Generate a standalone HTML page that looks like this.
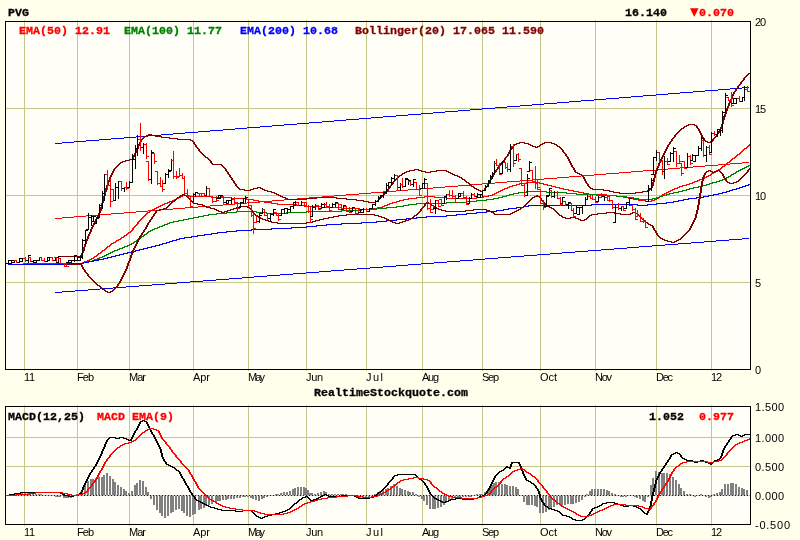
<!DOCTYPE html><html><head><meta charset="utf-8"><title>PVG chart</title>
<style>html,body{margin:0;padding:0;background:#ffffec;}svg{display:block}
.b{font-family:"Liberation Mono",monospace;font-weight:bold;font-size:11.6px;stroke-width:0.3px;}
.s{font-family:"Liberation Sans",sans-serif;font-size:11px;fill:#000;}
</style></head><body>
<svg width="800" height="540" viewBox="0 0 800 540">
<rect x="0" y="0" width="800" height="540" fill="#ffffec"/>
<g shape-rendering="crispEdges">
<rect x="5" y="21" width="746" height="349" fill="#fffff8"/>
<rect x="5" y="406" width="746" height="119" fill="#fffff8"/>
<rect x="24" y="20" width="1" height="351" fill="#c6c68a"/>
<rect x="24" y="405" width="1" height="121" fill="#c6c68a"/>
<rect x="77" y="20" width="1" height="351" fill="#c6c68a"/>
<rect x="77" y="405" width="1" height="121" fill="#c6c68a"/>
<rect x="129" y="20" width="1" height="351" fill="#c6c68a"/>
<rect x="129" y="405" width="1" height="121" fill="#c6c68a"/>
<rect x="193" y="20" width="1" height="351" fill="#c6c68a"/>
<rect x="193" y="405" width="1" height="121" fill="#c6c68a"/>
<rect x="248" y="20" width="1" height="351" fill="#c6c68a"/>
<rect x="248" y="405" width="1" height="121" fill="#c6c68a"/>
<rect x="306" y="20" width="1" height="351" fill="#c6c68a"/>
<rect x="306" y="405" width="1" height="121" fill="#c6c68a"/>
<rect x="366" y="20" width="1" height="351" fill="#c6c68a"/>
<rect x="366" y="405" width="1" height="121" fill="#c6c68a"/>
<rect x="422" y="20" width="1" height="351" fill="#c6c68a"/>
<rect x="422" y="405" width="1" height="121" fill="#c6c68a"/>
<rect x="482" y="20" width="1" height="351" fill="#c6c68a"/>
<rect x="482" y="405" width="1" height="121" fill="#c6c68a"/>
<rect x="540" y="20" width="1" height="351" fill="#c6c68a"/>
<rect x="540" y="405" width="1" height="121" fill="#c6c68a"/>
<rect x="595" y="20" width="1" height="351" fill="#c6c68a"/>
<rect x="595" y="405" width="1" height="121" fill="#c6c68a"/>
<rect x="656" y="20" width="1" height="351" fill="#c6c68a"/>
<rect x="656" y="405" width="1" height="121" fill="#c6c68a"/>
<rect x="711" y="20" width="1" height="351" fill="#c6c68a"/>
<rect x="711" y="405" width="1" height="121" fill="#c6c68a"/>
<rect x="5" y="108" width="746" height="1" fill="#c6c68a"/>
<rect x="5" y="195" width="746" height="1" fill="#c6c68a"/>
<rect x="5" y="282" width="746" height="1" fill="#c6c68a"/>
<rect x="5" y="437" width="746" height="1" fill="#c6c68a"/>
<rect x="5" y="466" width="746" height="1" fill="#c6c68a"/>
<rect x="5" y="495" width="746" height="1" fill="#c6c68a"/>
</g>
<g shape-rendering="crispEdges" stroke-linejoin="round">
<path d="M742 87.5h7M730 88.5h12M718 89.5h12M705 90.5h13M693 91.5h12M680 92.5h13M668 93.5h12M656 94.5h12M643 95.5h13M631 96.5h12M619 97.5h12M606 98.5h13M594 99.5h12M581 100.5h13M569 101.5h12M557 102.5h12M544 103.5h13M532 104.5h12M520 105.5h12M507 106.5h13M495 107.5h12M482 108.5h13M470 109.5h12M458 110.5h12M445 111.5h13M433 112.5h12M421 113.5h12M408 114.5h13M396 115.5h12M383 116.5h13M371 117.5h12M359 118.5h12M346 119.5h13M334 120.5h12M322 121.5h12M309 122.5h13M297 123.5h12M284 124.5h13M272 125.5h12M260 126.5h12M247 127.5h13M235 128.5h12M223 129.5h12M210 130.5h13M198 131.5h12M185 132.5h13M173 133.5h12M161 134.5h12M148 135.5h13M136 136.5h12M124 137.5h12M111 138.5h13M99 139.5h12M86 140.5h13M74 141.5h12M62 142.5h12M55 143.5h7" fill="none" stroke="#0000ff" stroke-width="1"/>
<path d="M742 238.5h7M729 239.5h13M716 240.5h13M704 241.5h12M691 242.5h13M678 243.5h13M665 244.5h13M652 245.5h13M639 246.5h13M627 247.5h12M614 248.5h13M601 249.5h13M588 250.5h13M575 251.5h13M562 252.5h13M550 253.5h12M537 254.5h13M524 255.5h13M511 256.5h13M498 257.5h13M485 258.5h13M473 259.5h12M460 260.5h13M447 261.5h13M434 262.5h13M421 263.5h13M408 264.5h13M396 265.5h12M383 266.5h13M370 267.5h13M357 268.5h13M344 269.5h13M331 270.5h13M319 271.5h12M306 272.5h13M293 273.5h13M280 274.5h13M267 275.5h13M254 276.5h13M242 277.5h12M229 278.5h13M216 279.5h13M203 280.5h13M190 281.5h13M177 282.5h13M165 283.5h12M152 284.5h13M139 285.5h13M126 286.5h13M113 287.5h13M100 288.5h13M88 289.5h12M75 290.5h13M62 291.5h13M55 292.5h7" fill="none" stroke="#0000ff" stroke-width="1"/>
<path d="M742 162.5h7M730 163.5h12M718 164.5h12M705 165.5h13M693 166.5h12M680 167.5h13M668 168.5h12M656 169.5h12M643 170.5h13M631 171.5h12M619 172.5h12M606 173.5h13M594 174.5h12M581 175.5h13M569 176.5h12M557 177.5h12M544 178.5h13M532 179.5h12M520 180.5h12M507 181.5h13M495 182.5h12M482 183.5h13M470 184.5h12M458 185.5h12M445 186.5h13M433 187.5h12M421 188.5h12M408 189.5h13M396 190.5h12M383 191.5h13M371 192.5h12M359 193.5h12M346 194.5h13M334 195.5h12M322 196.5h12M309 197.5h13M297 198.5h12M284 199.5h13M272 200.5h12M260 201.5h12M247 202.5h13M235 203.5h12M223 204.5h12M210 205.5h13M198 206.5h12M185 207.5h13M173 208.5h12M161 209.5h12M148 210.5h13M136 211.5h12M124 212.5h12M111 213.5h13M99 214.5h12M86 215.5h13M74 216.5h12M62 217.5h12M55 218.5h7" fill="none" stroke="#ff0000" stroke-width="1"/>
<path d="M749 144.5h1M748 145.5h2M747 146.5h2M746 147.5h2M744 148.5h3M743 149.5h2M742 150.5h2M741 151.5h2M740 152.5h2M739 153.5h2M737 154.5h3M736 155.5h2M735 156.5h2M734 157.5h2M732 158.5h3M731 159.5h2M730 160.5h2M729 161.5h2M727 162.5h3M726 163.5h2M725 164.5h2M724 165.5h2M722 166.5h3M721 167.5h2M720 168.5h2M718 169.5h3M716 170.5h3M715 171.5h2M713 172.5h3M711 173.5h3M710 174.5h2M708 175.5h3M706 176.5h3M704 177.5h3M702 178.5h3M699 179.5h4M697 180.5h3M694 181.5h4M526 182.5h14M692 182.5h3M519 183.5h8M539 183.5h5M689 183.5h4M516 184.5h4M543 184.5h5M686 184.5h4M512 185.5h5M547 185.5h5M682 185.5h5M509 186.5h4M551 186.5h5M679 186.5h4M507 187.5h3M555 187.5h5M677 187.5h3M504 188.5h4M559 188.5h5M674 188.5h4M502 189.5h3M563 189.5h6M672 189.5h3M500 190.5h3M568 190.5h6M670 190.5h3M498 191.5h3M573 191.5h6M668 191.5h3M496 192.5h3M578 192.5h6M666 192.5h3M494 193.5h3M583 193.5h6M664 193.5h3M492 194.5h3M588 194.5h19M662 194.5h3M182 195.5h6M488 195.5h5M606 195.5h11M661 195.5h2M180 196.5h3M187 196.5h25M424 196.5h11M483 196.5h6M616 196.5h8M659 196.5h3M178 197.5h3M211 197.5h21M416 197.5h9M434 197.5h13M476 197.5h8M623 197.5h6M658 197.5h2M176 198.5h3M231 198.5h16M408 198.5h9M446 198.5h31M628 198.5h6M656 198.5h3M174 199.5h3M246 199.5h8M403 199.5h6M633 199.5h6M654 199.5h3M172 200.5h3M253 200.5h6M399 200.5h5M638 200.5h8M651 200.5h4M169 201.5h4M258 201.5h7M396 201.5h4M645 201.5h7M167 202.5h3M264 202.5h8M392 202.5h5M164 203.5h4M271 203.5h7M389 203.5h4M162 204.5h3M277 204.5h20M387 204.5h3M160 205.5h3M296 205.5h11M384 205.5h4M158 206.5h3M306 206.5h16M382 206.5h3M156 207.5h3M321 207.5h21M377 207.5h6M154 208.5h3M341 208.5h19M370 208.5h8M152 209.5h3M359 209.5h12M150 210.5h3M149 211.5h2M147 212.5h3M146 213.5h2M145 214.5h2M144 215.5h2M143 216.5h2M142 217.5h2M141 218.5h2M140 219.5h2M139 220.5h2M138 221.5h2M137 222.5h2M137 223.5h2M136 224.5h2M135 225.5h2M134 226.5h2M133 227.5h2M132 228.5h2M132 229.5h2M131 230.5h2M130 231.5h2M128 232.5h3M127 233.5h2M126 234.5h2M124 235.5h3M123 236.5h2M121 237.5h3M120 238.5h2M118 239.5h3M116 240.5h3M115 241.5h2M113 242.5h3M111 243.5h3M110 244.5h2M109 245.5h2M107 246.5h3M106 247.5h2M105 248.5h2M104 249.5h2M102 250.5h3M101 251.5h2M100 252.5h2M98 253.5h3M97 254.5h2M96 255.5h2M94 256.5h3M93 257.5h2M91 258.5h3M89 259.5h3M87 260.5h3M84 261.5h4M82 262.5h3M23 263.5h40M76 263.5h7M8 264.5h16M62 264.5h15" fill="none" stroke="#ff0000" stroke-width="1"/>
<path d="M748 165.5h2M746 166.5h3M744 167.5h3M742 168.5h3M740 169.5h3M738 170.5h3M736 171.5h3M735 172.5h2M733 173.5h3M731 174.5h3M730 175.5h2M728 176.5h3M726 177.5h3M724 178.5h3M722 179.5h3M719 180.5h4M716 181.5h4M712 182.5h5M709 183.5h4M706 184.5h4M702 185.5h5M698 186.5h5M693 187.5h6M689 188.5h5M686 189.5h4M682 190.5h5M526 191.5h21M678 191.5h5M518 192.5h9M546 192.5h21M673 192.5h6M513 193.5h6M566 193.5h11M669 193.5h5M509 194.5h5M576 194.5h21M666 194.5h4M506 195.5h4M596 195.5h21M662 195.5h5M502 196.5h5M616 196.5h11M659 196.5h4M498 197.5h5M626 197.5h8M656 197.5h4M493 198.5h6M633 198.5h6M652 198.5h5M486 199.5h8M638 199.5h15M476 200.5h11M466 201.5h11M446 202.5h21M416 203.5h31M408 204.5h9M403 205.5h6M396 206.5h8M386 207.5h11M376 208.5h11M361 209.5h16M341 210.5h21M236 211.5h21M306 211.5h36M226 212.5h11M256 212.5h11M286 212.5h21M216 213.5h11M266 213.5h21M208 214.5h9M203 215.5h6M198 216.5h6M193 217.5h6M188 218.5h6M183 219.5h6M178 220.5h6M173 221.5h6M169 222.5h5M167 223.5h3M164 224.5h4M162 225.5h3M159 226.5h4M157 227.5h3M154 228.5h4M152 229.5h3M150 230.5h3M148 231.5h3M147 232.5h2M146 233.5h2M144 234.5h3M143 235.5h2M141 236.5h3M140 237.5h2M138 238.5h3M137 239.5h2M136 240.5h2M134 241.5h3M133 242.5h2M131 243.5h3M129 244.5h3M127 245.5h3M124 246.5h4M122 247.5h3M119 248.5h4M117 249.5h3M114 250.5h4M112 251.5h3M110 252.5h3M108 253.5h3M106 254.5h3M104 255.5h3M102 256.5h3M99 257.5h4M97 258.5h3M94 259.5h4M92 260.5h3M88 261.5h5M83 262.5h6M35 263.5h49M8 264.5h28" fill="none" stroke="#008000" stroke-width="1"/>
<path d="M748 184.5h2M745 185.5h4M742 186.5h4M739 187.5h4M736 188.5h4M732 189.5h5M729 190.5h4M726 191.5h4M722 192.5h5M718 193.5h5M713 194.5h6M708 195.5h6M703 196.5h6M696 197.5h8M688 198.5h9M683 199.5h6M678 200.5h6M673 201.5h6M666 202.5h8M656 203.5h11M591 204.5h47M647 204.5h10M528 205.5h64M637 205.5h11M523 206.5h6M516 207.5h8M508 208.5h9M503 209.5h6M496 210.5h8M486 211.5h11M476 212.5h11M466 213.5h11M456 214.5h11M446 215.5h11M426 216.5h21M416 217.5h11M406 218.5h11M396 219.5h11M386 220.5h11M376 221.5h11M361 222.5h16M341 223.5h21M326 224.5h16M316 225.5h11M306 226.5h11M291 227.5h16M271 228.5h21M251 229.5h21M236 230.5h16M226 231.5h11M217 232.5h10M211 233.5h7M204 234.5h8M197 235.5h8M191 236.5h7M184 237.5h8M179 238.5h6M176 239.5h4M172 240.5h5M169 241.5h4M166 242.5h4M162 243.5h5M159 244.5h4M155 245.5h5M151 246.5h5M147 247.5h5M143 248.5h5M139 249.5h5M135 250.5h5M131 251.5h5M127 252.5h5M123 253.5h5M119 254.5h5M115 255.5h5M111 256.5h5M107 257.5h5M103 258.5h5M98 259.5h6M93 260.5h6M88 261.5h6M83 262.5h6M71 263.5h13M8 264.5h64" fill="none" stroke="#0000ff" stroke-width="1"/>
<path d="M748 73.5h2M747 74.5h2M746 75.5h2M745 76.5h2M744 77.5h2M743 78.5h2M743 79.5h2M742 80.5h2M741 81.5h2M740 82.5h2M740 83.5h2M739 84.5h2M738 85.5h2M737 86.5h2M737 87.5h2M736 88.5h2M735 89.5h2M735 90.5h2M734 91.5h2M733 92.5h2M733 93.5h2M732 94.5h2M732 95.5h2M731 96.5h2M731 97.5h2M731 98.5h2M730 99.5h2M730 100.5h2M729 101.5h2M729 102.5h2M728 103.5h2M728 104.5h2M728 105.5h2M727 106.5h2M727 107.5h2M726 108.5h2M726 109.5h2M726 110.5h2M725 111.5h2M725 112.5h2M725 113.5h2M724 114.5h2M724 115.5h2M724 116.5h2M723 117.5h2M723 118.5h2M723 119.5h2M722 120.5h2M722 121.5h2M722 122.5h2M722 123.5h2M688 124.5h7M721 124.5h2M686 125.5h3M694 125.5h3M721 125.5h2M684 126.5h3M696 126.5h2M721 126.5h2M683 127.5h2M696 127.5h2M720 127.5h2M681 128.5h3M697 128.5h2M720 128.5h2M680 129.5h2M698 129.5h2M719 129.5h2M679 130.5h2M698 130.5h2M719 130.5h2M678 131.5h2M699 131.5h2M718 131.5h2M677 132.5h2M699 132.5h2M718 132.5h2M676 133.5h2M700 133.5h2M717 133.5h2M148 134.5h4M675 134.5h2M700 134.5h2M716 134.5h2M146 135.5h3M151 135.5h5M674 135.5h2M701 135.5h2M716 135.5h2M144 136.5h3M155 136.5h7M674 136.5h2M701 136.5h2M715 136.5h2M143 137.5h2M161 137.5h9M673 137.5h2M702 137.5h2M714 137.5h2M142 138.5h2M169 138.5h9M672 138.5h2M703 138.5h2M713 138.5h2M141 139.5h2M177 139.5h14M671 139.5h2M703 139.5h2M712 139.5h2M140 140.5h2M190 140.5h3M671 140.5h2M704 140.5h2M712 140.5h2M140 141.5h2M192 141.5h2M670 141.5h2M705 141.5h3M710 141.5h3M139 142.5h2M193 142.5h2M519 142.5h6M544 142.5h8M669 142.5h2M707 142.5h4M139 143.5h2M193 143.5h2M516 143.5h4M524 143.5h5M542 143.5h3M551 143.5h4M669 143.5h2M138 144.5h2M194 144.5h2M514 144.5h3M528 144.5h3M540 144.5h3M554 144.5h3M668 144.5h2M138 145.5h2M195 145.5h2M513 145.5h2M530 145.5h3M539 145.5h2M556 145.5h2M667 145.5h2M137 146.5h2M195 146.5h2M512 146.5h2M532 146.5h4M537 146.5h3M557 146.5h3M667 146.5h2M137 147.5h2M196 147.5h2M511 147.5h2M535 147.5h3M559 147.5h2M666 147.5h2M137 148.5h2M197 148.5h2M511 148.5h2M560 148.5h2M666 148.5h2M136 149.5h2M198 149.5h2M510 149.5h2M561 149.5h2M665 149.5h2M136 150.5h2M198 150.5h2M509 150.5h2M562 150.5h2M665 150.5h2M135 151.5h2M199 151.5h2M509 151.5h2M562 151.5h2M664 151.5h2M135 152.5h2M200 152.5h2M508 152.5h2M563 152.5h2M664 152.5h2M134 153.5h2M201 153.5h2M508 153.5h2M564 153.5h2M663 153.5h2M134 154.5h2M202 154.5h2M507 154.5h2M565 154.5h2M663 154.5h2M133 155.5h2M203 155.5h2M507 155.5h2M565 155.5h2M662 155.5h2M133 156.5h2M204 156.5h2M506 156.5h2M566 156.5h2M662 156.5h2M132 157.5h2M205 157.5h3M505 157.5h2M567 157.5h2M661 157.5h2M132 158.5h2M207 158.5h2M504 158.5h2M567 158.5h2M661 158.5h2M129 159.5h4M208 159.5h2M504 159.5h2M568 159.5h2M660 159.5h2M125 160.5h5M209 160.5h2M503 160.5h2M568 160.5h2M660 160.5h2M122 161.5h4M210 161.5h2M502 161.5h2M569 161.5h2M659 161.5h2M120 162.5h3M210 162.5h2M501 162.5h2M569 162.5h2M659 162.5h2M119 163.5h2M211 163.5h2M500 163.5h2M570 163.5h2M658 163.5h2M118 164.5h2M212 164.5h10M500 164.5h2M570 164.5h2M658 164.5h2M117 165.5h2M221 165.5h2M499 165.5h2M571 165.5h2M658 165.5h2M116 166.5h2M222 166.5h2M498 166.5h2M571 166.5h2M657 166.5h2M115 167.5h2M223 167.5h2M497 167.5h2M572 167.5h2M657 167.5h2M114 168.5h2M224 168.5h2M497 168.5h2M573 168.5h2M656 168.5h2M113 169.5h2M225 169.5h2M414 169.5h5M496 169.5h2M573 169.5h2M656 169.5h2M113 170.5h2M225 170.5h2M409 170.5h6M418 170.5h4M436 170.5h11M495 170.5h2M574 170.5h2M656 170.5h2M112 171.5h2M226 171.5h2M406 171.5h4M421 171.5h5M430 171.5h7M446 171.5h3M495 171.5h2M574 171.5h2M655 171.5h2M112 172.5h2M227 172.5h2M404 172.5h3M425 172.5h6M448 172.5h3M494 172.5h2M575 172.5h3M655 172.5h2M111 173.5h2M227 173.5h2M402 173.5h3M450 173.5h3M493 173.5h2M577 173.5h3M655 173.5h2M111 174.5h2M228 174.5h2M401 174.5h2M452 174.5h3M493 174.5h2M579 174.5h3M654 174.5h2M110 175.5h2M229 175.5h2M399 175.5h3M454 175.5h4M492 175.5h2M581 175.5h2M654 175.5h2M110 176.5h2M229 176.5h2M398 176.5h2M457 176.5h3M492 176.5h2M582 176.5h2M654 176.5h2M109 177.5h2M230 177.5h2M397 177.5h2M459 177.5h3M491 177.5h2M583 177.5h2M654 177.5h2M109 178.5h2M231 178.5h2M396 178.5h2M461 178.5h2M491 178.5h2M583 178.5h2M653 178.5h2M109 179.5h2M231 179.5h2M395 179.5h2M462 179.5h3M490 179.5h2M584 179.5h2M653 179.5h2M108 180.5h2M232 180.5h2M394 180.5h2M464 180.5h2M489 180.5h2M584 180.5h2M653 180.5h2M108 181.5h2M233 181.5h2M393 181.5h2M465 181.5h2M489 181.5h2M585 181.5h2M653 181.5h2M107 182.5h2M233 182.5h2M392 182.5h2M466 182.5h3M488 182.5h2M585 182.5h2M652 182.5h2M107 183.5h2M234 183.5h2M392 183.5h2M468 183.5h2M488 183.5h2M586 183.5h2M652 183.5h2M107 184.5h2M235 184.5h2M391 184.5h2M469 184.5h2M487 184.5h2M587 184.5h2M652 184.5h2M106 185.5h2M235 185.5h2M390 185.5h2M470 185.5h2M487 185.5h2M587 185.5h2M652 185.5h2M106 186.5h2M236 186.5h2M389 186.5h2M471 186.5h3M486 186.5h2M588 186.5h2M651 186.5h2M106 187.5h2M237 187.5h2M257 187.5h4M389 187.5h2M473 187.5h2M485 187.5h2M589 187.5h2M651 187.5h2M105 188.5h2M238 188.5h2M253 188.5h5M260 188.5h3M388 188.5h2M474 188.5h3M484 188.5h2M590 188.5h3M650 188.5h2M105 189.5h2M239 189.5h6M250 189.5h4M262 189.5h3M387 189.5h2M476 189.5h3M484 189.5h2M592 189.5h12M649 189.5h2M105 190.5h2M244 190.5h7M264 190.5h4M387 190.5h2M478 190.5h3M482 190.5h3M603 190.5h7M647 190.5h3M105 191.5h2M267 191.5h5M386 191.5h2M480 191.5h3M609 191.5h5M642 191.5h6M104 192.5h2M271 192.5h4M385 192.5h2M613 192.5h7M635 192.5h8M104 193.5h2M274 193.5h3M384 193.5h2M619 193.5h17M104 194.5h2M276 194.5h3M383 194.5h2M104 195.5h2M278 195.5h3M382 195.5h2M103 196.5h2M280 196.5h3M381 196.5h2M103 197.5h2M282 197.5h4M316 197.5h21M380 197.5h2M103 198.5h2M285 198.5h3M306 198.5h11M336 198.5h11M379 198.5h2M102 199.5h2M287 199.5h20M346 199.5h11M378 199.5h2M102 200.5h2M356 200.5h8M377 200.5h2M102 201.5h2M363 201.5h6M375 201.5h3M102 202.5h2M368 202.5h8M101 203.5h2M101 204.5h2M101 205.5h2M101 206.5h2M100 207.5h2M100 208.5h2M100 209.5h2M100 210.5h2M99 211.5h2M99 212.5h2M98 213.5h2M98 214.5h2M97 215.5h2M97 216.5h2M96 217.5h2M96 218.5h2M95 219.5h2M95 220.5h2M94 221.5h2M94 222.5h2M93 223.5h2M93 224.5h2M92 225.5h2M92 226.5h2M91 227.5h2M91 228.5h2M90 229.5h2M90 230.5h2M90 231.5h2M89 232.5h2M89 233.5h2M88 234.5h2M88 235.5h2M87 236.5h2M87 237.5h2M87 238.5h2M86 239.5h2M86 240.5h2M85 241.5h2M85 242.5h2M85 243.5h2M84 244.5h2M84 245.5h2M84 246.5h2M83 247.5h2M83 248.5h2M83 249.5h2M83 250.5h2M82 251.5h2M82 252.5h2M81 253.5h2M81 254.5h2M80 255.5h2M58 256.5h24" fill="none" stroke="#800000" stroke-width="1"/>
<path d="M749 168.5h1M748 169.5h2M708 170.5h3M717 170.5h3M747 170.5h2M706 171.5h3M710 171.5h3M714 171.5h4M719 171.5h2M747 171.5h2M705 172.5h2M712 172.5h3M720 172.5h2M746 172.5h2M704 173.5h2M721 173.5h2M745 173.5h2M704 174.5h2M722 174.5h2M744 174.5h2M703 175.5h2M722 175.5h2M743 175.5h2M703 176.5h2M723 176.5h2M742 176.5h2M702 177.5h2M723 177.5h2M741 177.5h2M702 178.5h2M724 178.5h2M740 178.5h2M702 179.5h2M725 179.5h2M739 179.5h2M702 180.5h2M725 180.5h2M738 180.5h2M701 181.5h2M726 181.5h2M736 181.5h3M701 182.5h2M727 182.5h3M733 182.5h4M701 183.5h2M729 183.5h5M701 184.5h2M701 185.5h2M700 186.5h2M700 187.5h2M700 188.5h2M700 189.5h2M700 190.5h2M700 191.5h2M700 192.5h2M699 193.5h2M182 194.5h3M699 194.5h2M180 195.5h3M184 195.5h3M536 195.5h2M699 195.5h2M179 196.5h2M186 196.5h2M534 196.5h6M699 196.5h2M177 197.5h3M187 197.5h2M532 197.5h3M539 197.5h2M699 197.5h2M176 198.5h2M188 198.5h2M531 198.5h2M540 198.5h2M699 198.5h2M175 199.5h2M189 199.5h2M530 199.5h2M540 199.5h2M698 199.5h2M174 200.5h2M190 200.5h2M529 200.5h2M541 200.5h2M698 200.5h2M172 201.5h3M191 201.5h2M528 201.5h2M542 201.5h2M698 201.5h2M171 202.5h2M192 202.5h2M426 202.5h3M527 202.5h2M543 202.5h2M698 202.5h2M170 203.5h2M193 203.5h5M425 203.5h2M428 203.5h3M526 203.5h2M544 203.5h2M698 203.5h2M169 204.5h2M197 204.5h6M424 204.5h2M430 204.5h2M525 204.5h2M544 204.5h2M698 204.5h2M168 205.5h2M202 205.5h3M424 205.5h2M431 205.5h3M524 205.5h2M545 205.5h2M697 205.5h2M167 206.5h2M204 206.5h3M239 206.5h9M423 206.5h2M433 206.5h2M523 206.5h2M546 206.5h4M697 206.5h2M166 207.5h2M206 207.5h5M236 207.5h4M247 207.5h3M422 207.5h2M434 207.5h3M521 207.5h3M549 207.5h3M697 207.5h2M163 208.5h4M210 208.5h5M233 208.5h4M249 208.5h2M421 208.5h2M436 208.5h3M520 208.5h2M551 208.5h3M697 208.5h2M159 209.5h5M214 209.5h3M230 209.5h4M250 209.5h2M420 209.5h2M438 209.5h4M473 209.5h14M518 209.5h3M553 209.5h2M697 209.5h2M156 210.5h4M216 210.5h3M227 210.5h4M251 210.5h2M420 210.5h2M441 210.5h5M465 210.5h9M486 210.5h4M516 210.5h3M554 210.5h2M696 210.5h2M155 211.5h2M218 211.5h4M224 211.5h4M252 211.5h2M419 211.5h2M445 211.5h21M489 211.5h3M514 211.5h3M555 211.5h2M696 211.5h2M155 212.5h2M221 212.5h4M252 212.5h2M418 212.5h2M491 212.5h3M512 212.5h3M556 212.5h2M606 212.5h9M632 212.5h4M696 212.5h2M154 213.5h2M253 213.5h2M417 213.5h2M493 213.5h2M510 213.5h3M557 213.5h2M597 213.5h10M614 213.5h7M630 213.5h3M635 213.5h3M696 213.5h2M153 214.5h2M254 214.5h2M346 214.5h29M416 214.5h2M494 214.5h17M558 214.5h2M591 214.5h7M620 214.5h11M637 214.5h2M695 214.5h2M153 215.5h2M255 215.5h3M338 215.5h9M374 215.5h5M414 215.5h3M559 215.5h3M589 215.5h3M638 215.5h2M695 215.5h2M152 216.5h2M257 216.5h2M333 216.5h6M378 216.5h4M413 216.5h2M561 216.5h2M588 216.5h2M639 216.5h2M695 216.5h2M151 217.5h2M258 217.5h3M328 217.5h6M381 217.5h4M412 217.5h2M562 217.5h4M570 217.5h6M587 217.5h2M640 217.5h2M695 217.5h2M151 218.5h2M260 218.5h3M323 218.5h6M384 218.5h3M410 218.5h3M565 218.5h6M575 218.5h4M586 218.5h2M641 218.5h2M694 218.5h2M150 219.5h2M262 219.5h4M319 219.5h5M386 219.5h3M408 219.5h3M578 219.5h3M584 219.5h3M642 219.5h2M694 219.5h2M149 220.5h2M265 220.5h4M315 220.5h5M388 220.5h3M405 220.5h4M580 220.5h5M643 220.5h2M693 220.5h2M149 221.5h2M268 221.5h4M312 221.5h4M390 221.5h3M402 221.5h4M644 221.5h2M693 221.5h2M148 222.5h2M271 222.5h7M306 222.5h7M392 222.5h4M399 222.5h4M645 222.5h3M692 222.5h2M147 223.5h2M277 223.5h30M395 223.5h5M647 223.5h2M692 223.5h2M147 224.5h2M648 224.5h3M691 224.5h2M146 225.5h2M650 225.5h3M691 225.5h2M146 226.5h2M652 226.5h2M690 226.5h2M145 227.5h2M652 227.5h2M690 227.5h2M145 228.5h2M653 228.5h2M689 228.5h2M144 229.5h2M653 229.5h2M689 229.5h2M143 230.5h2M654 230.5h2M688 230.5h2M143 231.5h2M655 231.5h2M687 231.5h2M142 232.5h2M655 232.5h2M686 232.5h2M141 233.5h2M656 233.5h2M685 233.5h2M141 234.5h2M656 234.5h2M684 234.5h2M140 235.5h2M657 235.5h2M683 235.5h2M139 236.5h2M658 236.5h2M682 236.5h2M139 237.5h2M659 237.5h2M681 237.5h2M138 238.5h2M660 238.5h3M680 238.5h2M138 239.5h2M662 239.5h3M678 239.5h3M137 240.5h2M664 240.5h4M676 240.5h3M137 241.5h2M667 241.5h5M674 241.5h3M136 242.5h2M671 242.5h4M136 243.5h2M135 244.5h2M135 245.5h2M134 246.5h2M134 247.5h2M133 248.5h2M133 249.5h2M132 250.5h2M132 251.5h2M132 252.5h2M131 253.5h2M131 254.5h2M130 255.5h2M130 256.5h2M130 257.5h2M129 258.5h2M129 259.5h2M129 260.5h2M128 261.5h2M128 262.5h2M58 263.5h13M127 263.5h2M70 264.5h12M127 264.5h2M81 265.5h2M127 265.5h2M81 266.5h2M126 266.5h2M82 267.5h2M126 267.5h2M82 268.5h2M126 268.5h2M83 269.5h2M125 269.5h2M84 270.5h2M125 270.5h2M84 271.5h2M124 271.5h2M85 272.5h2M124 272.5h2M86 273.5h2M123 273.5h2M87 274.5h2M123 274.5h2M87 275.5h2M122 275.5h2M88 276.5h2M122 276.5h2M89 277.5h2M121 277.5h2M90 278.5h2M121 278.5h2M91 279.5h2M120 279.5h2M92 280.5h2M120 280.5h2M93 281.5h2M119 281.5h2M94 282.5h2M119 282.5h2M95 283.5h2M118 283.5h2M96 284.5h2M117 284.5h2M97 285.5h3M117 285.5h2M99 286.5h2M116 286.5h2M100 287.5h2M115 287.5h2M101 288.5h2M114 288.5h2M102 289.5h3M113 289.5h2M104 290.5h2M112 290.5h2M105 291.5h3M110 291.5h3M107 292.5h4" fill="none" stroke="#800000" stroke-width="1"/>
</g>
<g shape-rendering="crispEdges">
<rect x="8" y="260" width="1" height="4" fill="#000000"/>
<rect x="6" y="263" width="2" height="1" fill="#000000"/>
<rect x="9" y="260" width="2" height="1" fill="#000000"/>
<rect x="11" y="260" width="1" height="4" fill="#000000"/>
<rect x="9" y="263" width="2" height="1" fill="#000000"/>
<rect x="12" y="260" width="2" height="1" fill="#000000"/>
<rect x="14" y="260" width="1" height="3" fill="#000000"/>
<rect x="12" y="262" width="2" height="1" fill="#000000"/>
<rect x="15" y="260" width="2" height="1" fill="#000000"/>
<rect x="16" y="260" width="1" height="3" fill="#ff0000"/>
<rect x="14" y="260" width="2" height="1" fill="#ff0000"/>
<rect x="17" y="262" width="2" height="1" fill="#ff0000"/>
<rect x="19" y="258" width="1" height="5" fill="#000000"/>
<rect x="17" y="262" width="2" height="1" fill="#000000"/>
<rect x="20" y="258" width="2" height="1" fill="#000000"/>
<rect x="22" y="258" width="1" height="4" fill="#000000"/>
<rect x="20" y="261" width="2" height="1" fill="#000000"/>
<rect x="23" y="258" width="2" height="1" fill="#000000"/>
<rect x="25" y="257" width="1" height="5" fill="#ff0000"/>
<rect x="23" y="258" width="2" height="1" fill="#ff0000"/>
<rect x="26" y="260" width="2" height="1" fill="#ff0000"/>
<rect x="28" y="255" width="1" height="8" fill="#000000"/>
<rect x="26" y="260" width="2" height="1" fill="#000000"/>
<rect x="29" y="255" width="2" height="1" fill="#000000"/>
<rect x="30" y="257" width="1" height="5" fill="#ff0000"/>
<rect x="28" y="257" width="2" height="1" fill="#ff0000"/>
<rect x="31" y="261" width="2" height="1" fill="#ff0000"/>
<rect x="33" y="260" width="1" height="3" fill="#000000"/>
<rect x="31" y="261" width="2" height="1" fill="#000000"/>
<rect x="34" y="260" width="2" height="1" fill="#000000"/>
<rect x="36" y="260" width="1" height="3" fill="#000000"/>
<rect x="34" y="262" width="2" height="1" fill="#000000"/>
<rect x="37" y="260" width="2" height="1" fill="#000000"/>
<rect x="39" y="257" width="1" height="4" fill="#000000"/>
<rect x="37" y="260" width="2" height="1" fill="#000000"/>
<rect x="40" y="257" width="2" height="1" fill="#000000"/>
<rect x="41" y="257" width="1" height="4" fill="#ff0000"/>
<rect x="39" y="257" width="2" height="1" fill="#ff0000"/>
<rect x="42" y="260" width="2" height="1" fill="#ff0000"/>
<rect x="44" y="258" width="1" height="4" fill="#ff0000"/>
<rect x="42" y="260" width="2" height="1" fill="#ff0000"/>
<rect x="45" y="261" width="2" height="1" fill="#ff0000"/>
<rect x="47" y="257" width="1" height="5" fill="#000000"/>
<rect x="45" y="261" width="2" height="1" fill="#000000"/>
<rect x="48" y="257" width="2" height="1" fill="#000000"/>
<rect x="49" y="257" width="1" height="4" fill="#000000"/>
<rect x="47" y="260" width="2" height="1" fill="#000000"/>
<rect x="50" y="257" width="2" height="1" fill="#000000"/>
<rect x="52" y="257" width="1" height="4" fill="#ff0000"/>
<rect x="50" y="257" width="2" height="1" fill="#ff0000"/>
<rect x="53" y="260" width="2" height="1" fill="#ff0000"/>
<rect x="55" y="257" width="1" height="4" fill="#000000"/>
<rect x="53" y="260" width="2" height="1" fill="#000000"/>
<rect x="56" y="257" width="2" height="1" fill="#000000"/>
<rect x="56" y="257" width="1" height="6" fill="#ff0000"/>
<rect x="54" y="257" width="2" height="1" fill="#ff0000"/>
<rect x="57" y="262" width="2" height="1" fill="#ff0000"/>
<rect x="58" y="256" width="1" height="7" fill="#000000"/>
<rect x="56" y="262" width="2" height="1" fill="#000000"/>
<rect x="59" y="256" width="2" height="1" fill="#000000"/>
<rect x="60" y="258" width="1" height="6" fill="#ff0000"/>
<rect x="58" y="258" width="2" height="1" fill="#ff0000"/>
<rect x="61" y="263" width="2" height="1" fill="#ff0000"/>
<rect x="64" y="263" width="1" height="4" fill="#ff0000"/>
<rect x="62" y="263" width="2" height="1" fill="#ff0000"/>
<rect x="65" y="266" width="2" height="1" fill="#ff0000"/>
<rect x="66" y="263" width="1" height="4" fill="#ff0000"/>
<rect x="64" y="263" width="2" height="1" fill="#ff0000"/>
<rect x="67" y="266" width="2" height="1" fill="#ff0000"/>
<rect x="68" y="260" width="1" height="3" fill="#000000"/>
<rect x="66" y="262" width="2" height="1" fill="#000000"/>
<rect x="69" y="260" width="2" height="1" fill="#000000"/>
<rect x="71" y="260" width="1" height="3" fill="#000000"/>
<rect x="69" y="262" width="2" height="1" fill="#000000"/>
<rect x="72" y="260" width="2" height="1" fill="#000000"/>
<rect x="74" y="255" width="1" height="7" fill="#000000"/>
<rect x="72" y="260" width="2" height="1" fill="#000000"/>
<rect x="75" y="255" width="2" height="1" fill="#000000"/>
<rect x="77" y="257" width="1" height="4" fill="#000000"/>
<rect x="75" y="260" width="2" height="1" fill="#000000"/>
<rect x="78" y="257" width="2" height="1" fill="#000000"/>
<rect x="80" y="256" width="1" height="5" fill="#000000"/>
<rect x="78" y="260" width="2" height="1" fill="#000000"/>
<rect x="81" y="257" width="2" height="1" fill="#000000"/>
<rect x="82" y="239" width="1" height="20" fill="#000000"/>
<rect x="80" y="257" width="2" height="1" fill="#000000"/>
<rect x="83" y="240" width="2" height="1" fill="#000000"/>
<rect x="85" y="230" width="1" height="15" fill="#000000"/>
<rect x="83" y="240" width="2" height="1" fill="#000000"/>
<rect x="86" y="230" width="2" height="1" fill="#000000"/>
<rect x="88" y="213" width="1" height="17" fill="#000000"/>
<rect x="86" y="229" width="2" height="1" fill="#000000"/>
<rect x="89" y="217" width="2" height="1" fill="#000000"/>
<rect x="91" y="215" width="1" height="11" fill="#000000"/>
<rect x="89" y="217" width="2" height="1" fill="#000000"/>
<rect x="92" y="216" width="2" height="1" fill="#000000"/>
<rect x="93" y="216" width="1" height="6" fill="#000000"/>
<rect x="91" y="221" width="2" height="1" fill="#000000"/>
<rect x="94" y="216" width="2" height="1" fill="#000000"/>
<rect x="96" y="218" width="1" height="6" fill="#000000"/>
<rect x="94" y="223" width="2" height="1" fill="#000000"/>
<rect x="97" y="218" width="2" height="1" fill="#000000"/>
<rect x="99" y="204" width="1" height="14" fill="#000000"/>
<rect x="97" y="217" width="2" height="1" fill="#000000"/>
<rect x="100" y="205" width="2" height="1" fill="#000000"/>
<rect x="102" y="191" width="1" height="18" fill="#000000"/>
<rect x="100" y="205" width="2" height="1" fill="#000000"/>
<rect x="103" y="193" width="2" height="1" fill="#000000"/>
<rect x="104" y="174" width="1" height="27" fill="#000000"/>
<rect x="102" y="193" width="2" height="1" fill="#000000"/>
<rect x="105" y="174" width="2" height="1" fill="#000000"/>
<rect x="107" y="170" width="1" height="20" fill="#ff0000"/>
<rect x="105" y="174" width="2" height="1" fill="#ff0000"/>
<rect x="108" y="185" width="2" height="1" fill="#ff0000"/>
<rect x="110" y="179" width="1" height="28" fill="#ff0000"/>
<rect x="108" y="185" width="2" height="1" fill="#ff0000"/>
<rect x="111" y="201" width="2" height="1" fill="#ff0000"/>
<rect x="113" y="189" width="1" height="12" fill="#ff0000"/>
<rect x="111" y="189" width="2" height="1" fill="#ff0000"/>
<rect x="114" y="200" width="2" height="1" fill="#ff0000"/>
<rect x="115" y="183" width="1" height="18" fill="#000000"/>
<rect x="113" y="200" width="2" height="1" fill="#000000"/>
<rect x="116" y="187" width="2" height="1" fill="#000000"/>
<rect x="118" y="181" width="1" height="18" fill="#000000"/>
<rect x="116" y="187" width="2" height="1" fill="#000000"/>
<rect x="119" y="181" width="2" height="1" fill="#000000"/>
<rect x="121" y="181" width="1" height="10" fill="#ff0000"/>
<rect x="119" y="181" width="2" height="1" fill="#ff0000"/>
<rect x="122" y="188" width="2" height="1" fill="#ff0000"/>
<rect x="124" y="187" width="1" height="5" fill="#000000"/>
<rect x="122" y="188" width="2" height="1" fill="#000000"/>
<rect x="125" y="187" width="2" height="1" fill="#000000"/>
<rect x="126" y="182" width="1" height="8" fill="#ff0000"/>
<rect x="124" y="187" width="2" height="1" fill="#ff0000"/>
<rect x="127" y="188" width="2" height="1" fill="#ff0000"/>
<rect x="129" y="181" width="1" height="7" fill="#000000"/>
<rect x="127" y="187" width="2" height="1" fill="#000000"/>
<rect x="130" y="182" width="2" height="1" fill="#000000"/>
<rect x="132" y="154" width="1" height="29" fill="#000000"/>
<rect x="130" y="182" width="2" height="1" fill="#000000"/>
<rect x="133" y="159" width="2" height="1" fill="#000000"/>
<rect x="135" y="145" width="1" height="24" fill="#000000"/>
<rect x="133" y="159" width="2" height="1" fill="#000000"/>
<rect x="136" y="148" width="2" height="1" fill="#000000"/>
<rect x="137" y="135" width="1" height="21" fill="#000000"/>
<rect x="135" y="148" width="2" height="1" fill="#000000"/>
<rect x="138" y="139" width="2" height="1" fill="#000000"/>
<rect x="140" y="123" width="1" height="28" fill="#ff0000"/>
<rect x="138" y="139" width="2" height="1" fill="#ff0000"/>
<rect x="141" y="147" width="2" height="1" fill="#ff0000"/>
<rect x="143" y="143" width="1" height="11" fill="#000000"/>
<rect x="141" y="147" width="2" height="1" fill="#000000"/>
<rect x="144" y="144" width="2" height="1" fill="#000000"/>
<rect x="146" y="143" width="1" height="16" fill="#ff0000"/>
<rect x="144" y="144" width="2" height="1" fill="#ff0000"/>
<rect x="147" y="156" width="2" height="1" fill="#ff0000"/>
<rect x="148" y="161" width="1" height="20" fill="#ff0000"/>
<rect x="146" y="161" width="2" height="1" fill="#ff0000"/>
<rect x="149" y="179" width="2" height="1" fill="#ff0000"/>
<rect x="151" y="150" width="1" height="34" fill="#000000"/>
<rect x="149" y="179" width="2" height="1" fill="#000000"/>
<rect x="152" y="152" width="2" height="1" fill="#000000"/>
<rect x="154" y="153" width="1" height="11" fill="#ff0000"/>
<rect x="152" y="153" width="2" height="1" fill="#ff0000"/>
<rect x="155" y="161" width="2" height="1" fill="#ff0000"/>
<rect x="157" y="171" width="1" height="14" fill="#ff0000"/>
<rect x="155" y="171" width="2" height="1" fill="#ff0000"/>
<rect x="158" y="183" width="2" height="1" fill="#ff0000"/>
<rect x="160" y="177" width="1" height="10" fill="#ff0000"/>
<rect x="158" y="183" width="2" height="1" fill="#ff0000"/>
<rect x="161" y="186" width="2" height="1" fill="#ff0000"/>
<rect x="162" y="180" width="1" height="12" fill="#ff0000"/>
<rect x="160" y="186" width="2" height="1" fill="#ff0000"/>
<rect x="163" y="189" width="2" height="1" fill="#ff0000"/>
<rect x="165" y="173" width="1" height="11" fill="#000000"/>
<rect x="163" y="183" width="2" height="1" fill="#000000"/>
<rect x="166" y="174" width="2" height="1" fill="#000000"/>
<rect x="168" y="169" width="1" height="9" fill="#000000"/>
<rect x="166" y="174" width="2" height="1" fill="#000000"/>
<rect x="169" y="171" width="2" height="1" fill="#000000"/>
<rect x="171" y="159" width="1" height="12" fill="#000000"/>
<rect x="169" y="170" width="2" height="1" fill="#000000"/>
<rect x="172" y="160" width="2" height="1" fill="#000000"/>
<rect x="173" y="151" width="1" height="28" fill="#ff0000"/>
<rect x="171" y="160" width="2" height="1" fill="#ff0000"/>
<rect x="174" y="176" width="2" height="1" fill="#ff0000"/>
<rect x="176" y="171" width="1" height="8" fill="#ff0000"/>
<rect x="174" y="176" width="2" height="1" fill="#ff0000"/>
<rect x="177" y="177" width="2" height="1" fill="#ff0000"/>
<rect x="179" y="168" width="1" height="9" fill="#ff0000"/>
<rect x="177" y="176" width="2" height="1" fill="#ff0000"/>
<rect x="180" y="175" width="2" height="1" fill="#ff0000"/>
<rect x="182" y="173" width="1" height="6" fill="#ff0000"/>
<rect x="180" y="175" width="2" height="1" fill="#ff0000"/>
<rect x="183" y="178" width="2" height="1" fill="#ff0000"/>
<rect x="184" y="176" width="1" height="18" fill="#ff0000"/>
<rect x="182" y="178" width="2" height="1" fill="#ff0000"/>
<rect x="185" y="193" width="2" height="1" fill="#ff0000"/>
<rect x="187" y="189" width="1" height="8" fill="#ff0000"/>
<rect x="185" y="193" width="2" height="1" fill="#ff0000"/>
<rect x="188" y="195" width="2" height="1" fill="#ff0000"/>
<rect x="190" y="196" width="1" height="11" fill="#ff0000"/>
<rect x="188" y="196" width="2" height="1" fill="#ff0000"/>
<rect x="191" y="206" width="2" height="1" fill="#ff0000"/>
<rect x="193" y="193" width="1" height="9" fill="#000000"/>
<rect x="191" y="201" width="2" height="1" fill="#000000"/>
<rect x="194" y="194" width="2" height="1" fill="#000000"/>
<rect x="195" y="192" width="1" height="5" fill="#000000"/>
<rect x="193" y="194" width="2" height="1" fill="#000000"/>
<rect x="196" y="192" width="2" height="1" fill="#000000"/>
<rect x="199" y="193" width="1" height="4" fill="#ff0000"/>
<rect x="197" y="193" width="2" height="1" fill="#ff0000"/>
<rect x="200" y="196" width="2" height="1" fill="#ff0000"/>
<rect x="201" y="193" width="1" height="4" fill="#ff0000"/>
<rect x="199" y="193" width="2" height="1" fill="#ff0000"/>
<rect x="202" y="196" width="2" height="1" fill="#ff0000"/>
<rect x="204" y="193" width="1" height="4" fill="#ff0000"/>
<rect x="202" y="193" width="2" height="1" fill="#ff0000"/>
<rect x="205" y="196" width="2" height="1" fill="#ff0000"/>
<rect x="206" y="186" width="1" height="10" fill="#000000"/>
<rect x="204" y="195" width="2" height="1" fill="#000000"/>
<rect x="207" y="188" width="2" height="1" fill="#000000"/>
<rect x="209" y="188" width="1" height="9" fill="#ff0000"/>
<rect x="207" y="188" width="2" height="1" fill="#ff0000"/>
<rect x="210" y="196" width="2" height="1" fill="#ff0000"/>
<rect x="212" y="196" width="1" height="7" fill="#ff0000"/>
<rect x="210" y="196" width="2" height="1" fill="#ff0000"/>
<rect x="213" y="201" width="2" height="1" fill="#ff0000"/>
<rect x="216" y="196" width="1" height="6" fill="#ff0000"/>
<rect x="214" y="201" width="2" height="1" fill="#ff0000"/>
<rect x="217" y="200" width="2" height="1" fill="#ff0000"/>
<rect x="218" y="195" width="1" height="4" fill="#000000"/>
<rect x="216" y="198" width="2" height="1" fill="#000000"/>
<rect x="219" y="195" width="2" height="1" fill="#000000"/>
<rect x="220" y="195" width="1" height="4" fill="#000000"/>
<rect x="218" y="198" width="2" height="1" fill="#000000"/>
<rect x="221" y="195" width="2" height="1" fill="#000000"/>
<rect x="223" y="196" width="1" height="8" fill="#ff0000"/>
<rect x="221" y="196" width="2" height="1" fill="#ff0000"/>
<rect x="224" y="202" width="2" height="1" fill="#ff0000"/>
<rect x="226" y="200" width="1" height="4" fill="#000000"/>
<rect x="224" y="202" width="2" height="1" fill="#000000"/>
<rect x="227" y="200" width="2" height="1" fill="#000000"/>
<rect x="228" y="200" width="1" height="4" fill="#000000"/>
<rect x="226" y="203" width="2" height="1" fill="#000000"/>
<rect x="229" y="200" width="2" height="1" fill="#000000"/>
<rect x="231" y="198" width="1" height="6" fill="#000000"/>
<rect x="229" y="200" width="2" height="1" fill="#000000"/>
<rect x="232" y="199" width="2" height="1" fill="#000000"/>
<rect x="234" y="197" width="1" height="7" fill="#ff0000"/>
<rect x="232" y="199" width="2" height="1" fill="#ff0000"/>
<rect x="235" y="202" width="2" height="1" fill="#ff0000"/>
<rect x="237" y="202" width="1" height="9" fill="#ff0000"/>
<rect x="235" y="202" width="2" height="1" fill="#ff0000"/>
<rect x="238" y="208" width="2" height="1" fill="#ff0000"/>
<rect x="240" y="202" width="1" height="6" fill="#000000"/>
<rect x="238" y="207" width="2" height="1" fill="#000000"/>
<rect x="241" y="202" width="2" height="1" fill="#000000"/>
<rect x="243" y="198" width="1" height="6" fill="#000000"/>
<rect x="241" y="202" width="2" height="1" fill="#000000"/>
<rect x="244" y="198" width="2" height="1" fill="#000000"/>
<rect x="245" y="196" width="1" height="7" fill="#000000"/>
<rect x="243" y="198" width="2" height="1" fill="#000000"/>
<rect x="246" y="197" width="2" height="1" fill="#000000"/>
<rect x="248" y="199" width="1" height="8" fill="#ff0000"/>
<rect x="246" y="199" width="2" height="1" fill="#ff0000"/>
<rect x="249" y="205" width="2" height="1" fill="#ff0000"/>
<rect x="251" y="205" width="1" height="12" fill="#ff0000"/>
<rect x="249" y="205" width="2" height="1" fill="#ff0000"/>
<rect x="252" y="215" width="2" height="1" fill="#ff0000"/>
<rect x="253" y="213" width="1" height="21" fill="#ff0000"/>
<rect x="251" y="215" width="2" height="1" fill="#ff0000"/>
<rect x="254" y="228" width="2" height="1" fill="#ff0000"/>
<rect x="256" y="215" width="1" height="8" fill="#ff0000"/>
<rect x="254" y="222" width="2" height="1" fill="#ff0000"/>
<rect x="257" y="221" width="2" height="1" fill="#ff0000"/>
<rect x="259" y="213" width="1" height="10" fill="#000000"/>
<rect x="257" y="221" width="2" height="1" fill="#000000"/>
<rect x="260" y="215" width="2" height="1" fill="#000000"/>
<rect x="262" y="208" width="1" height="6" fill="#000000"/>
<rect x="260" y="213" width="2" height="1" fill="#000000"/>
<rect x="263" y="209" width="2" height="1" fill="#000000"/>
<rect x="264" y="209" width="1" height="7" fill="#ff0000"/>
<rect x="262" y="209" width="2" height="1" fill="#ff0000"/>
<rect x="265" y="215" width="2" height="1" fill="#ff0000"/>
<rect x="267" y="213" width="1" height="7" fill="#ff0000"/>
<rect x="265" y="215" width="2" height="1" fill="#ff0000"/>
<rect x="268" y="218" width="2" height="1" fill="#ff0000"/>
<rect x="270" y="213" width="1" height="9" fill="#000000"/>
<rect x="268" y="218" width="2" height="1" fill="#000000"/>
<rect x="271" y="214" width="2" height="1" fill="#000000"/>
<rect x="273" y="209" width="1" height="7" fill="#000000"/>
<rect x="271" y="214" width="2" height="1" fill="#000000"/>
<rect x="274" y="209" width="2" height="1" fill="#000000"/>
<rect x="276" y="212" width="1" height="4" fill="#ff0000"/>
<rect x="274" y="212" width="2" height="1" fill="#ff0000"/>
<rect x="277" y="215" width="2" height="1" fill="#ff0000"/>
<rect x="278" y="213" width="1" height="8" fill="#ff0000"/>
<rect x="276" y="215" width="2" height="1" fill="#ff0000"/>
<rect x="279" y="219" width="2" height="1" fill="#ff0000"/>
<rect x="281" y="209" width="1" height="7" fill="#000000"/>
<rect x="279" y="215" width="2" height="1" fill="#000000"/>
<rect x="282" y="209" width="2" height="1" fill="#000000"/>
<rect x="284" y="208" width="1" height="6" fill="#000000"/>
<rect x="282" y="209" width="2" height="1" fill="#000000"/>
<rect x="285" y="208" width="2" height="1" fill="#000000"/>
<rect x="287" y="208" width="1" height="6" fill="#000000"/>
<rect x="285" y="208" width="2" height="1" fill="#000000"/>
<rect x="288" y="209" width="2" height="1" fill="#000000"/>
<rect x="290" y="206" width="1" height="6" fill="#000000"/>
<rect x="288" y="209" width="2" height="1" fill="#000000"/>
<rect x="291" y="206" width="2" height="1" fill="#000000"/>
<rect x="293" y="202" width="1" height="7" fill="#000000"/>
<rect x="291" y="206" width="2" height="1" fill="#000000"/>
<rect x="294" y="202" width="2" height="1" fill="#000000"/>
<rect x="295" y="201" width="1" height="5" fill="#000000"/>
<rect x="293" y="205" width="2" height="1" fill="#000000"/>
<rect x="296" y="202" width="2" height="1" fill="#000000"/>
<rect x="298" y="202" width="1" height="4" fill="#ff0000"/>
<rect x="296" y="202" width="2" height="1" fill="#ff0000"/>
<rect x="299" y="205" width="2" height="1" fill="#ff0000"/>
<rect x="301" y="201" width="1" height="5" fill="#000000"/>
<rect x="299" y="205" width="2" height="1" fill="#000000"/>
<rect x="302" y="202" width="2" height="1" fill="#000000"/>
<rect x="304" y="202" width="1" height="5" fill="#ff0000"/>
<rect x="302" y="202" width="2" height="1" fill="#ff0000"/>
<rect x="305" y="206" width="2" height="1" fill="#ff0000"/>
<rect x="306" y="202" width="1" height="5" fill="#ff0000"/>
<rect x="304" y="202" width="2" height="1" fill="#ff0000"/>
<rect x="307" y="206" width="2" height="1" fill="#ff0000"/>
<rect x="308" y="205" width="1" height="8" fill="#ff0000"/>
<rect x="306" y="206" width="2" height="1" fill="#ff0000"/>
<rect x="309" y="211" width="2" height="1" fill="#ff0000"/>
<rect x="310" y="207" width="1" height="16" fill="#ff0000"/>
<rect x="308" y="211" width="2" height="1" fill="#ff0000"/>
<rect x="311" y="219" width="2" height="1" fill="#ff0000"/>
<rect x="312" y="205" width="1" height="12" fill="#000000"/>
<rect x="310" y="216" width="2" height="1" fill="#000000"/>
<rect x="313" y="207" width="2" height="1" fill="#000000"/>
<rect x="315" y="204" width="1" height="6" fill="#000000"/>
<rect x="313" y="207" width="2" height="1" fill="#000000"/>
<rect x="316" y="205" width="2" height="1" fill="#000000"/>
<rect x="318" y="205" width="1" height="5" fill="#ff0000"/>
<rect x="316" y="205" width="2" height="1" fill="#ff0000"/>
<rect x="319" y="209" width="2" height="1" fill="#ff0000"/>
<rect x="321" y="203" width="1" height="6" fill="#000000"/>
<rect x="319" y="208" width="2" height="1" fill="#000000"/>
<rect x="322" y="204" width="2" height="1" fill="#000000"/>
<rect x="324" y="203" width="1" height="5" fill="#000000"/>
<rect x="322" y="207" width="2" height="1" fill="#000000"/>
<rect x="325" y="204" width="2" height="1" fill="#000000"/>
<rect x="326" y="202" width="1" height="6" fill="#ff0000"/>
<rect x="324" y="204" width="2" height="1" fill="#ff0000"/>
<rect x="327" y="206" width="2" height="1" fill="#ff0000"/>
<rect x="329" y="204" width="1" height="8" fill="#ff0000"/>
<rect x="327" y="206" width="2" height="1" fill="#ff0000"/>
<rect x="330" y="210" width="2" height="1" fill="#ff0000"/>
<rect x="332" y="203" width="1" height="5" fill="#000000"/>
<rect x="330" y="207" width="2" height="1" fill="#000000"/>
<rect x="333" y="204" width="2" height="1" fill="#000000"/>
<rect x="335" y="202" width="1" height="5" fill="#000000"/>
<rect x="333" y="204" width="2" height="1" fill="#000000"/>
<rect x="336" y="202" width="2" height="1" fill="#000000"/>
<rect x="338" y="203" width="1" height="7" fill="#ff0000"/>
<rect x="336" y="203" width="2" height="1" fill="#ff0000"/>
<rect x="339" y="209" width="2" height="1" fill="#ff0000"/>
<rect x="341" y="204" width="1" height="6" fill="#ff0000"/>
<rect x="339" y="204" width="2" height="1" fill="#ff0000"/>
<rect x="342" y="209" width="2" height="1" fill="#ff0000"/>
<rect x="343" y="205" width="1" height="5" fill="#000000"/>
<rect x="341" y="209" width="2" height="1" fill="#000000"/>
<rect x="344" y="205" width="2" height="1" fill="#000000"/>
<rect x="346" y="206" width="1" height="6" fill="#ff0000"/>
<rect x="344" y="206" width="2" height="1" fill="#ff0000"/>
<rect x="347" y="211" width="2" height="1" fill="#ff0000"/>
<rect x="349" y="207" width="1" height="6" fill="#ff0000"/>
<rect x="347" y="211" width="2" height="1" fill="#ff0000"/>
<rect x="350" y="212" width="2" height="1" fill="#ff0000"/>
<rect x="352" y="207" width="1" height="5" fill="#000000"/>
<rect x="350" y="211" width="2" height="1" fill="#000000"/>
<rect x="353" y="207" width="2" height="1" fill="#000000"/>
<rect x="355" y="208" width="1" height="6" fill="#ff0000"/>
<rect x="353" y="208" width="2" height="1" fill="#ff0000"/>
<rect x="356" y="213" width="2" height="1" fill="#ff0000"/>
<rect x="358" y="209" width="1" height="5" fill="#ff0000"/>
<rect x="356" y="213" width="2" height="1" fill="#ff0000"/>
<rect x="359" y="212" width="2" height="1" fill="#ff0000"/>
<rect x="360" y="209" width="1" height="4" fill="#000000"/>
<rect x="358" y="212" width="2" height="1" fill="#000000"/>
<rect x="361" y="209" width="2" height="1" fill="#000000"/>
<rect x="363" y="208" width="1" height="5" fill="#000000"/>
<rect x="361" y="212" width="2" height="1" fill="#000000"/>
<rect x="364" y="209" width="2" height="1" fill="#000000"/>
<rect x="366" y="208" width="1" height="4" fill="#ff0000"/>
<rect x="364" y="209" width="2" height="1" fill="#ff0000"/>
<rect x="367" y="211" width="2" height="1" fill="#ff0000"/>
<rect x="369" y="208" width="1" height="4" fill="#000000"/>
<rect x="367" y="211" width="2" height="1" fill="#000000"/>
<rect x="370" y="208" width="2" height="1" fill="#000000"/>
<rect x="372" y="204" width="1" height="5" fill="#000000"/>
<rect x="370" y="208" width="2" height="1" fill="#000000"/>
<rect x="373" y="204" width="2" height="1" fill="#000000"/>
<rect x="375" y="200" width="1" height="6" fill="#000000"/>
<rect x="373" y="204" width="2" height="1" fill="#000000"/>
<rect x="376" y="201" width="2" height="1" fill="#000000"/>
<rect x="378" y="196" width="1" height="6" fill="#000000"/>
<rect x="376" y="201" width="2" height="1" fill="#000000"/>
<rect x="379" y="197" width="2" height="1" fill="#000000"/>
<rect x="380" y="195" width="1" height="4" fill="#000000"/>
<rect x="378" y="197" width="2" height="1" fill="#000000"/>
<rect x="381" y="195" width="2" height="1" fill="#000000"/>
<rect x="383" y="192" width="1" height="6" fill="#000000"/>
<rect x="381" y="195" width="2" height="1" fill="#000000"/>
<rect x="384" y="192" width="2" height="1" fill="#000000"/>
<rect x="386" y="183" width="1" height="11" fill="#000000"/>
<rect x="384" y="192" width="2" height="1" fill="#000000"/>
<rect x="387" y="185" width="2" height="1" fill="#000000"/>
<rect x="388" y="182" width="1" height="6" fill="#000000"/>
<rect x="386" y="185" width="2" height="1" fill="#000000"/>
<rect x="389" y="182" width="2" height="1" fill="#000000"/>
<rect x="391" y="177" width="1" height="8" fill="#000000"/>
<rect x="389" y="182" width="2" height="1" fill="#000000"/>
<rect x="392" y="178" width="2" height="1" fill="#000000"/>
<rect x="394" y="174" width="1" height="7" fill="#000000"/>
<rect x="392" y="178" width="2" height="1" fill="#000000"/>
<rect x="395" y="175" width="2" height="1" fill="#000000"/>
<rect x="397" y="175" width="1" height="16" fill="#ff0000"/>
<rect x="395" y="175" width="2" height="1" fill="#ff0000"/>
<rect x="398" y="187" width="2" height="1" fill="#ff0000"/>
<rect x="400" y="183" width="1" height="8" fill="#000000"/>
<rect x="398" y="187" width="2" height="1" fill="#000000"/>
<rect x="401" y="184" width="2" height="1" fill="#000000"/>
<rect x="402" y="178" width="1" height="10" fill="#ff0000"/>
<rect x="400" y="184" width="2" height="1" fill="#ff0000"/>
<rect x="403" y="186" width="2" height="1" fill="#ff0000"/>
<rect x="405" y="178" width="1" height="9" fill="#000000"/>
<rect x="403" y="186" width="2" height="1" fill="#000000"/>
<rect x="406" y="178" width="2" height="1" fill="#000000"/>
<rect x="408" y="179" width="1" height="6" fill="#000000"/>
<rect x="406" y="179" width="2" height="1" fill="#000000"/>
<rect x="409" y="180" width="2" height="1" fill="#000000"/>
<rect x="410" y="181" width="1" height="5" fill="#ff0000"/>
<rect x="408" y="181" width="2" height="1" fill="#ff0000"/>
<rect x="411" y="184" width="2" height="1" fill="#ff0000"/>
<rect x="413" y="179" width="1" height="8" fill="#000000"/>
<rect x="411" y="184" width="2" height="1" fill="#000000"/>
<rect x="414" y="179" width="2" height="1" fill="#000000"/>
<rect x="416" y="182" width="1" height="8" fill="#ff0000"/>
<rect x="414" y="182" width="2" height="1" fill="#ff0000"/>
<rect x="417" y="189" width="2" height="1" fill="#ff0000"/>
<rect x="419" y="185" width="1" height="11" fill="#ff0000"/>
<rect x="417" y="189" width="2" height="1" fill="#ff0000"/>
<rect x="420" y="195" width="2" height="1" fill="#ff0000"/>
<rect x="422" y="183" width="1" height="6" fill="#000000"/>
<rect x="420" y="188" width="2" height="1" fill="#000000"/>
<rect x="423" y="183" width="2" height="1" fill="#000000"/>
<rect x="424" y="178" width="1" height="11" fill="#000000"/>
<rect x="422" y="183" width="2" height="1" fill="#000000"/>
<rect x="425" y="179" width="2" height="1" fill="#000000"/>
<rect x="427" y="183" width="1" height="27" fill="#ff0000"/>
<rect x="425" y="183" width="2" height="1" fill="#ff0000"/>
<rect x="428" y="208" width="2" height="1" fill="#ff0000"/>
<rect x="430" y="199" width="1" height="14" fill="#ff0000"/>
<rect x="428" y="208" width="2" height="1" fill="#ff0000"/>
<rect x="431" y="212" width="2" height="1" fill="#ff0000"/>
<rect x="433" y="205" width="1" height="5" fill="#ff0000"/>
<rect x="431" y="209" width="2" height="1" fill="#ff0000"/>
<rect x="434" y="208" width="2" height="1" fill="#ff0000"/>
<rect x="435" y="200" width="1" height="14" fill="#000000"/>
<rect x="433" y="208" width="2" height="1" fill="#000000"/>
<rect x="436" y="200" width="2" height="1" fill="#000000"/>
<rect x="438" y="200" width="1" height="7" fill="#ff0000"/>
<rect x="436" y="200" width="2" height="1" fill="#ff0000"/>
<rect x="439" y="206" width="2" height="1" fill="#ff0000"/>
<rect x="441" y="199" width="1" height="7" fill="#ff0000"/>
<rect x="439" y="199" width="2" height="1" fill="#ff0000"/>
<rect x="442" y="205" width="2" height="1" fill="#ff0000"/>
<rect x="444" y="196" width="1" height="8" fill="#000000"/>
<rect x="442" y="203" width="2" height="1" fill="#000000"/>
<rect x="445" y="196" width="2" height="1" fill="#000000"/>
<rect x="446" y="194" width="1" height="6" fill="#000000"/>
<rect x="444" y="196" width="2" height="1" fill="#000000"/>
<rect x="447" y="194" width="2" height="1" fill="#000000"/>
<rect x="449" y="190" width="1" height="7" fill="#ff0000"/>
<rect x="447" y="194" width="2" height="1" fill="#ff0000"/>
<rect x="450" y="195" width="2" height="1" fill="#ff0000"/>
<rect x="452" y="190" width="1" height="9" fill="#ff0000"/>
<rect x="450" y="195" width="2" height="1" fill="#ff0000"/>
<rect x="453" y="196" width="2" height="1" fill="#ff0000"/>
<rect x="455" y="195" width="1" height="8" fill="#ff0000"/>
<rect x="453" y="196" width="2" height="1" fill="#ff0000"/>
<rect x="456" y="202" width="2" height="1" fill="#ff0000"/>
<rect x="458" y="193" width="1" height="6" fill="#000000"/>
<rect x="456" y="198" width="2" height="1" fill="#000000"/>
<rect x="459" y="193" width="2" height="1" fill="#000000"/>
<rect x="460" y="193" width="1" height="4" fill="#000000"/>
<rect x="458" y="196" width="2" height="1" fill="#000000"/>
<rect x="461" y="193" width="2" height="1" fill="#000000"/>
<rect x="463" y="191" width="1" height="8" fill="#ff0000"/>
<rect x="461" y="193" width="2" height="1" fill="#ff0000"/>
<rect x="464" y="197" width="2" height="1" fill="#ff0000"/>
<rect x="466" y="196" width="1" height="9" fill="#ff0000"/>
<rect x="464" y="197" width="2" height="1" fill="#ff0000"/>
<rect x="467" y="204" width="2" height="1" fill="#ff0000"/>
<rect x="469" y="197" width="1" height="7" fill="#000000"/>
<rect x="467" y="203" width="2" height="1" fill="#000000"/>
<rect x="470" y="198" width="2" height="1" fill="#000000"/>
<rect x="471" y="193" width="1" height="6" fill="#000000"/>
<rect x="469" y="198" width="2" height="1" fill="#000000"/>
<rect x="472" y="194" width="2" height="1" fill="#000000"/>
<rect x="474" y="193" width="1" height="4" fill="#ff0000"/>
<rect x="472" y="194" width="2" height="1" fill="#ff0000"/>
<rect x="475" y="196" width="2" height="1" fill="#ff0000"/>
<rect x="477" y="193" width="1" height="5" fill="#000000"/>
<rect x="475" y="196" width="2" height="1" fill="#000000"/>
<rect x="478" y="194" width="2" height="1" fill="#000000"/>
<rect x="480" y="194" width="1" height="4" fill="#000000"/>
<rect x="478" y="197" width="2" height="1" fill="#000000"/>
<rect x="481" y="194" width="2" height="1" fill="#000000"/>
<rect x="482" y="190" width="1" height="7" fill="#000000"/>
<rect x="480" y="194" width="2" height="1" fill="#000000"/>
<rect x="483" y="190" width="2" height="1" fill="#000000"/>
<rect x="485" y="185" width="1" height="6" fill="#000000"/>
<rect x="483" y="190" width="2" height="1" fill="#000000"/>
<rect x="486" y="186" width="2" height="1" fill="#000000"/>
<rect x="488" y="180" width="1" height="7" fill="#000000"/>
<rect x="486" y="186" width="2" height="1" fill="#000000"/>
<rect x="489" y="181" width="2" height="1" fill="#000000"/>
<rect x="490" y="175" width="1" height="8" fill="#000000"/>
<rect x="488" y="181" width="2" height="1" fill="#000000"/>
<rect x="491" y="176" width="2" height="1" fill="#000000"/>
<rect x="492" y="172" width="1" height="7" fill="#000000"/>
<rect x="490" y="176" width="2" height="1" fill="#000000"/>
<rect x="493" y="173" width="2" height="1" fill="#000000"/>
<rect x="494" y="161" width="1" height="13" fill="#000000"/>
<rect x="492" y="173" width="2" height="1" fill="#000000"/>
<rect x="495" y="163" width="2" height="1" fill="#000000"/>
<rect x="496" y="159" width="1" height="7" fill="#ff0000"/>
<rect x="494" y="163" width="2" height="1" fill="#ff0000"/>
<rect x="497" y="165" width="2" height="1" fill="#ff0000"/>
<rect x="499" y="163" width="1" height="12" fill="#ff0000"/>
<rect x="497" y="165" width="2" height="1" fill="#ff0000"/>
<rect x="500" y="174" width="2" height="1" fill="#ff0000"/>
<rect x="502" y="161" width="1" height="13" fill="#000000"/>
<rect x="500" y="173" width="2" height="1" fill="#000000"/>
<rect x="503" y="161" width="2" height="1" fill="#000000"/>
<rect x="505" y="162" width="1" height="7" fill="#ff0000"/>
<rect x="503" y="162" width="2" height="1" fill="#ff0000"/>
<rect x="506" y="167" width="2" height="1" fill="#ff0000"/>
<rect x="507" y="163" width="1" height="9" fill="#ff0000"/>
<rect x="505" y="167" width="2" height="1" fill="#ff0000"/>
<rect x="508" y="169" width="2" height="1" fill="#ff0000"/>
<rect x="510" y="144" width="1" height="28" fill="#000000"/>
<rect x="508" y="169" width="2" height="1" fill="#000000"/>
<rect x="511" y="146" width="2" height="1" fill="#000000"/>
<rect x="513" y="144" width="1" height="23" fill="#ff0000"/>
<rect x="511" y="146" width="2" height="1" fill="#ff0000"/>
<rect x="514" y="163" width="2" height="1" fill="#ff0000"/>
<rect x="516" y="154" width="1" height="7" fill="#000000"/>
<rect x="514" y="160" width="2" height="1" fill="#000000"/>
<rect x="517" y="154" width="2" height="1" fill="#000000"/>
<rect x="518" y="153" width="1" height="9" fill="#ff0000"/>
<rect x="516" y="154" width="2" height="1" fill="#ff0000"/>
<rect x="519" y="159" width="2" height="1" fill="#ff0000"/>
<rect x="521" y="168" width="1" height="18" fill="#ff0000"/>
<rect x="519" y="168" width="2" height="1" fill="#ff0000"/>
<rect x="522" y="185" width="2" height="1" fill="#ff0000"/>
<rect x="524" y="184" width="1" height="13" fill="#ff0000"/>
<rect x="522" y="185" width="2" height="1" fill="#ff0000"/>
<rect x="525" y="195" width="2" height="1" fill="#ff0000"/>
<rect x="527" y="174" width="1" height="22" fill="#000000"/>
<rect x="525" y="195" width="2" height="1" fill="#000000"/>
<rect x="528" y="178" width="2" height="1" fill="#000000"/>
<rect x="529" y="161" width="1" height="11" fill="#000000"/>
<rect x="527" y="171" width="2" height="1" fill="#000000"/>
<rect x="530" y="162" width="2" height="1" fill="#000000"/>
<rect x="532" y="170" width="1" height="12" fill="#ff0000"/>
<rect x="530" y="170" width="2" height="1" fill="#ff0000"/>
<rect x="533" y="181" width="2" height="1" fill="#ff0000"/>
<rect x="535" y="166" width="1" height="23" fill="#ff0000"/>
<rect x="533" y="181" width="2" height="1" fill="#ff0000"/>
<rect x="536" y="183" width="2" height="1" fill="#ff0000"/>
<rect x="537" y="179" width="1" height="11" fill="#ff0000"/>
<rect x="535" y="183" width="2" height="1" fill="#ff0000"/>
<rect x="538" y="187" width="2" height="1" fill="#ff0000"/>
<rect x="540" y="189" width="1" height="15" fill="#ff0000"/>
<rect x="538" y="189" width="2" height="1" fill="#ff0000"/>
<rect x="541" y="203" width="2" height="1" fill="#ff0000"/>
<rect x="543" y="200" width="1" height="10" fill="#ff0000"/>
<rect x="541" y="203" width="2" height="1" fill="#ff0000"/>
<rect x="544" y="207" width="2" height="1" fill="#ff0000"/>
<rect x="546" y="195" width="1" height="12" fill="#000000"/>
<rect x="544" y="206" width="2" height="1" fill="#000000"/>
<rect x="547" y="196" width="2" height="1" fill="#000000"/>
<rect x="549" y="188" width="1" height="8" fill="#000000"/>
<rect x="547" y="195" width="2" height="1" fill="#000000"/>
<rect x="550" y="188" width="2" height="1" fill="#000000"/>
<rect x="551" y="190" width="1" height="8" fill="#ff0000"/>
<rect x="549" y="190" width="2" height="1" fill="#ff0000"/>
<rect x="552" y="196" width="2" height="1" fill="#ff0000"/>
<rect x="554" y="191" width="1" height="7" fill="#000000"/>
<rect x="552" y="196" width="2" height="1" fill="#000000"/>
<rect x="555" y="192" width="2" height="1" fill="#000000"/>
<rect x="557" y="191" width="1" height="8" fill="#ff0000"/>
<rect x="555" y="192" width="2" height="1" fill="#ff0000"/>
<rect x="558" y="198" width="2" height="1" fill="#ff0000"/>
<rect x="560" y="197" width="1" height="9" fill="#ff0000"/>
<rect x="558" y="198" width="2" height="1" fill="#ff0000"/>
<rect x="561" y="204" width="2" height="1" fill="#ff0000"/>
<rect x="562" y="197" width="1" height="7" fill="#000000"/>
<rect x="560" y="203" width="2" height="1" fill="#000000"/>
<rect x="563" y="197" width="2" height="1" fill="#000000"/>
<rect x="565" y="201" width="1" height="5" fill="#ff0000"/>
<rect x="563" y="201" width="2" height="1" fill="#ff0000"/>
<rect x="566" y="204" width="2" height="1" fill="#ff0000"/>
<rect x="568" y="202" width="1" height="7" fill="#000000"/>
<rect x="566" y="204" width="2" height="1" fill="#000000"/>
<rect x="569" y="202" width="2" height="1" fill="#000000"/>
<rect x="571" y="203" width="1" height="8" fill="#ff0000"/>
<rect x="569" y="203" width="2" height="1" fill="#ff0000"/>
<rect x="572" y="210" width="2" height="1" fill="#ff0000"/>
<rect x="573" y="208" width="1" height="9" fill="#ff0000"/>
<rect x="571" y="210" width="2" height="1" fill="#ff0000"/>
<rect x="574" y="216" width="2" height="1" fill="#ff0000"/>
<rect x="576" y="206" width="1" height="8" fill="#000000"/>
<rect x="574" y="213" width="2" height="1" fill="#000000"/>
<rect x="577" y="207" width="2" height="1" fill="#000000"/>
<rect x="579" y="207" width="1" height="8" fill="#000000"/>
<rect x="577" y="214" width="2" height="1" fill="#000000"/>
<rect x="580" y="207" width="2" height="1" fill="#000000"/>
<rect x="582" y="205" width="1" height="9" fill="#000000"/>
<rect x="580" y="207" width="2" height="1" fill="#000000"/>
<rect x="583" y="205" width="2" height="1" fill="#000000"/>
<rect x="585" y="197" width="1" height="9" fill="#000000"/>
<rect x="583" y="205" width="2" height="1" fill="#000000"/>
<rect x="586" y="199" width="2" height="1" fill="#000000"/>
<rect x="587" y="195" width="1" height="5" fill="#000000"/>
<rect x="585" y="199" width="2" height="1" fill="#000000"/>
<rect x="588" y="196" width="2" height="1" fill="#000000"/>
<rect x="590" y="195" width="1" height="4" fill="#ff0000"/>
<rect x="588" y="196" width="2" height="1" fill="#ff0000"/>
<rect x="591" y="198" width="2" height="1" fill="#ff0000"/>
<rect x="592" y="195" width="1" height="5" fill="#ff0000"/>
<rect x="590" y="198" width="2" height="1" fill="#ff0000"/>
<rect x="593" y="199" width="2" height="1" fill="#ff0000"/>
<rect x="595" y="197" width="1" height="6" fill="#ff0000"/>
<rect x="593" y="199" width="2" height="1" fill="#ff0000"/>
<rect x="596" y="202" width="2" height="1" fill="#ff0000"/>
<rect x="598" y="196" width="1" height="6" fill="#000000"/>
<rect x="596" y="201" width="2" height="1" fill="#000000"/>
<rect x="599" y="197" width="2" height="1" fill="#000000"/>
<rect x="601" y="193" width="1" height="5" fill="#ff0000"/>
<rect x="599" y="197" width="2" height="1" fill="#ff0000"/>
<rect x="602" y="196" width="2" height="1" fill="#ff0000"/>
<rect x="604" y="196" width="1" height="5" fill="#000000"/>
<rect x="602" y="196" width="2" height="1" fill="#000000"/>
<rect x="605" y="197" width="2" height="1" fill="#000000"/>
<rect x="607" y="196" width="1" height="5" fill="#ff0000"/>
<rect x="605" y="197" width="2" height="1" fill="#ff0000"/>
<rect x="608" y="200" width="2" height="1" fill="#ff0000"/>
<rect x="609" y="196" width="1" height="6" fill="#ff0000"/>
<rect x="607" y="196" width="2" height="1" fill="#ff0000"/>
<rect x="610" y="200" width="2" height="1" fill="#ff0000"/>
<rect x="612" y="200" width="1" height="9" fill="#ff0000"/>
<rect x="610" y="200" width="2" height="1" fill="#ff0000"/>
<rect x="613" y="207" width="2" height="1" fill="#ff0000"/>
<rect x="615" y="205" width="1" height="18" fill="#000000"/>
<rect x="613" y="222" width="2" height="1" fill="#000000"/>
<rect x="616" y="207" width="2" height="1" fill="#000000"/>
<rect x="618" y="203" width="1" height="7" fill="#ff0000"/>
<rect x="616" y="207" width="2" height="1" fill="#ff0000"/>
<rect x="619" y="208" width="2" height="1" fill="#ff0000"/>
<rect x="621" y="206" width="1" height="5" fill="#000000"/>
<rect x="619" y="208" width="2" height="1" fill="#000000"/>
<rect x="622" y="206" width="2" height="1" fill="#000000"/>
<rect x="623" y="206" width="1" height="5" fill="#ff0000"/>
<rect x="621" y="206" width="2" height="1" fill="#ff0000"/>
<rect x="624" y="210" width="2" height="1" fill="#ff0000"/>
<rect x="626" y="202" width="1" height="7" fill="#000000"/>
<rect x="624" y="208" width="2" height="1" fill="#000000"/>
<rect x="627" y="202" width="2" height="1" fill="#000000"/>
<rect x="629" y="198" width="1" height="8" fill="#000000"/>
<rect x="627" y="202" width="2" height="1" fill="#000000"/>
<rect x="630" y="198" width="2" height="1" fill="#000000"/>
<rect x="632" y="205" width="1" height="6" fill="#ff0000"/>
<rect x="630" y="205" width="2" height="1" fill="#ff0000"/>
<rect x="633" y="209" width="2" height="1" fill="#ff0000"/>
<rect x="635" y="208" width="1" height="12" fill="#ff0000"/>
<rect x="633" y="209" width="2" height="1" fill="#ff0000"/>
<rect x="636" y="219" width="2" height="1" fill="#ff0000"/>
<rect x="637" y="210" width="1" height="7" fill="#ff0000"/>
<rect x="635" y="216" width="2" height="1" fill="#ff0000"/>
<rect x="638" y="215" width="2" height="1" fill="#ff0000"/>
<rect x="640" y="213" width="1" height="9" fill="#ff0000"/>
<rect x="638" y="215" width="2" height="1" fill="#ff0000"/>
<rect x="641" y="221" width="2" height="1" fill="#ff0000"/>
<rect x="643" y="218" width="1" height="5" fill="#ff0000"/>
<rect x="641" y="218" width="2" height="1" fill="#ff0000"/>
<rect x="644" y="221" width="2" height="1" fill="#ff0000"/>
<rect x="645" y="220" width="1" height="8" fill="#ff0000"/>
<rect x="643" y="221" width="2" height="1" fill="#ff0000"/>
<rect x="646" y="227" width="2" height="1" fill="#ff0000"/>
<rect x="648" y="185" width="1" height="17" fill="#000000"/>
<rect x="646" y="201" width="2" height="1" fill="#000000"/>
<rect x="649" y="188" width="2" height="1" fill="#000000"/>
<rect x="651" y="178" width="1" height="13" fill="#000000"/>
<rect x="649" y="188" width="2" height="1" fill="#000000"/>
<rect x="652" y="180" width="2" height="1" fill="#000000"/>
<rect x="653" y="157" width="1" height="18" fill="#000000"/>
<rect x="651" y="174" width="2" height="1" fill="#000000"/>
<rect x="654" y="157" width="2" height="1" fill="#000000"/>
<rect x="656" y="150" width="1" height="11" fill="#000000"/>
<rect x="654" y="157" width="2" height="1" fill="#000000"/>
<rect x="657" y="152" width="2" height="1" fill="#000000"/>
<rect x="659" y="152" width="1" height="10" fill="#ff0000"/>
<rect x="657" y="152" width="2" height="1" fill="#ff0000"/>
<rect x="660" y="161" width="2" height="1" fill="#ff0000"/>
<rect x="662" y="160" width="1" height="15" fill="#ff0000"/>
<rect x="660" y="161" width="2" height="1" fill="#ff0000"/>
<rect x="663" y="171" width="2" height="1" fill="#ff0000"/>
<rect x="664" y="156" width="1" height="23" fill="#000000"/>
<rect x="662" y="171" width="2" height="1" fill="#000000"/>
<rect x="665" y="161" width="2" height="1" fill="#000000"/>
<rect x="667" y="158" width="1" height="7" fill="#ff0000"/>
<rect x="665" y="161" width="2" height="1" fill="#ff0000"/>
<rect x="668" y="164" width="2" height="1" fill="#ff0000"/>
<rect x="670" y="152" width="1" height="10" fill="#000000"/>
<rect x="668" y="161" width="2" height="1" fill="#000000"/>
<rect x="671" y="153" width="2" height="1" fill="#000000"/>
<rect x="673" y="147" width="1" height="15" fill="#000000"/>
<rect x="671" y="153" width="2" height="1" fill="#000000"/>
<rect x="674" y="148" width="2" height="1" fill="#000000"/>
<rect x="676" y="151" width="1" height="16" fill="#ff0000"/>
<rect x="674" y="151" width="2" height="1" fill="#ff0000"/>
<rect x="677" y="163" width="2" height="1" fill="#ff0000"/>
<rect x="679" y="155" width="1" height="9" fill="#ff0000"/>
<rect x="677" y="163" width="2" height="1" fill="#ff0000"/>
<rect x="680" y="161" width="2" height="1" fill="#ff0000"/>
<rect x="681" y="163" width="1" height="13" fill="#ff0000"/>
<rect x="679" y="163" width="2" height="1" fill="#ff0000"/>
<rect x="682" y="173" width="2" height="1" fill="#ff0000"/>
<rect x="684" y="161" width="1" height="8" fill="#ff0000"/>
<rect x="682" y="161" width="2" height="1" fill="#ff0000"/>
<rect x="685" y="168" width="2" height="1" fill="#ff0000"/>
<rect x="687" y="153" width="1" height="15" fill="#000000"/>
<rect x="685" y="167" width="2" height="1" fill="#000000"/>
<rect x="688" y="156" width="2" height="1" fill="#000000"/>
<rect x="690" y="155" width="1" height="10" fill="#ff0000"/>
<rect x="688" y="156" width="2" height="1" fill="#ff0000"/>
<rect x="691" y="163" width="2" height="1" fill="#ff0000"/>
<rect x="692" y="154" width="1" height="7" fill="#000000"/>
<rect x="690" y="160" width="2" height="1" fill="#000000"/>
<rect x="693" y="155" width="2" height="1" fill="#000000"/>
<rect x="695" y="155" width="1" height="7" fill="#000000"/>
<rect x="693" y="161" width="2" height="1" fill="#000000"/>
<rect x="696" y="155" width="2" height="1" fill="#000000"/>
<rect x="698" y="146" width="1" height="10" fill="#000000"/>
<rect x="696" y="155" width="2" height="1" fill="#000000"/>
<rect x="699" y="148" width="2" height="1" fill="#000000"/>
<rect x="701" y="137" width="1" height="14" fill="#000000"/>
<rect x="699" y="148" width="2" height="1" fill="#000000"/>
<rect x="702" y="138" width="2" height="1" fill="#000000"/>
<rect x="703" y="140" width="1" height="17" fill="#ff0000"/>
<rect x="701" y="140" width="2" height="1" fill="#ff0000"/>
<rect x="704" y="155" width="2" height="1" fill="#ff0000"/>
<rect x="706" y="146" width="1" height="16" fill="#000000"/>
<rect x="704" y="155" width="2" height="1" fill="#000000"/>
<rect x="707" y="147" width="2" height="1" fill="#000000"/>
<rect x="709" y="145" width="1" height="10" fill="#ff0000"/>
<rect x="707" y="147" width="2" height="1" fill="#ff0000"/>
<rect x="710" y="154" width="2" height="1" fill="#ff0000"/>
<rect x="711" y="132" width="1" height="21" fill="#000000"/>
<rect x="709" y="152" width="2" height="1" fill="#000000"/>
<rect x="712" y="133" width="2" height="1" fill="#000000"/>
<rect x="714" y="131" width="1" height="5" fill="#ff0000"/>
<rect x="712" y="133" width="2" height="1" fill="#ff0000"/>
<rect x="715" y="134" width="2" height="1" fill="#ff0000"/>
<rect x="717" y="129" width="1" height="8" fill="#000000"/>
<rect x="715" y="134" width="2" height="1" fill="#000000"/>
<rect x="718" y="129" width="2" height="1" fill="#000000"/>
<rect x="720" y="129" width="1" height="7" fill="#000000"/>
<rect x="718" y="129" width="2" height="1" fill="#000000"/>
<rect x="721" y="130" width="2" height="1" fill="#000000"/>
<rect x="722" y="111" width="1" height="22" fill="#000000"/>
<rect x="720" y="130" width="2" height="1" fill="#000000"/>
<rect x="723" y="116" width="2" height="1" fill="#000000"/>
<rect x="725" y="93" width="1" height="20" fill="#000000"/>
<rect x="723" y="112" width="2" height="1" fill="#000000"/>
<rect x="726" y="95" width="2" height="1" fill="#000000"/>
<rect x="728" y="97" width="1" height="4" fill="#ff0000"/>
<rect x="726" y="97" width="2" height="1" fill="#ff0000"/>
<rect x="729" y="100" width="2" height="1" fill="#ff0000"/>
<rect x="731" y="92" width="1" height="15" fill="#ff0000"/>
<rect x="729" y="100" width="2" height="1" fill="#ff0000"/>
<rect x="732" y="105" width="2" height="1" fill="#ff0000"/>
<rect x="733" y="98" width="1" height="6" fill="#000000"/>
<rect x="731" y="103" width="2" height="1" fill="#000000"/>
<rect x="734" y="98" width="2" height="1" fill="#000000"/>
<rect x="736" y="98" width="1" height="6" fill="#000000"/>
<rect x="734" y="103" width="2" height="1" fill="#000000"/>
<rect x="737" y="98" width="2" height="1" fill="#000000"/>
<rect x="739" y="96" width="1" height="6" fill="#ff0000"/>
<rect x="737" y="98" width="2" height="1" fill="#ff0000"/>
<rect x="740" y="101" width="2" height="1" fill="#ff0000"/>
<rect x="742" y="97" width="1" height="5" fill="#000000"/>
<rect x="740" y="101" width="2" height="1" fill="#000000"/>
<rect x="743" y="97" width="2" height="1" fill="#000000"/>
<rect x="744" y="86" width="1" height="15" fill="#000000"/>
<rect x="742" y="97" width="2" height="1" fill="#000000"/>
<rect x="745" y="89" width="2" height="1" fill="#000000"/>
<rect x="747" y="86" width="1" height="6" fill="#ff0000"/>
<rect x="745" y="89" width="2" height="1" fill="#ff0000"/>
<rect x="748" y="91" width="2" height="1" fill="#ff0000"/>
</g>
<g shape-rendering="crispEdges">
<rect x="13" y="494" width="2" height="1" fill="#808080"/>
<rect x="15" y="494" width="2" height="1" fill="#808080"/>
<rect x="18" y="493" width="2" height="2" fill="#808080"/>
<rect x="21" y="493" width="2" height="2" fill="#808080"/>
<rect x="24" y="493" width="2" height="2" fill="#808080"/>
<rect x="27" y="493" width="2" height="2" fill="#808080"/>
<rect x="29" y="493" width="2" height="2" fill="#808080"/>
<rect x="32" y="494" width="2" height="1" fill="#808080"/>
<rect x="35" y="494" width="2" height="1" fill="#808080"/>
<rect x="38" y="494" width="2" height="1" fill="#808080"/>
<rect x="40" y="494" width="2" height="1" fill="#808080"/>
<rect x="55" y="496" width="2" height="1" fill="#808080"/>
<rect x="57" y="496" width="2" height="1" fill="#808080"/>
<rect x="59" y="496" width="2" height="1" fill="#808080"/>
<rect x="63" y="496" width="2" height="2" fill="#808080"/>
<rect x="65" y="496" width="2" height="2" fill="#808080"/>
<rect x="67" y="496" width="2" height="2" fill="#808080"/>
<rect x="70" y="496" width="2" height="2" fill="#808080"/>
<rect x="76" y="494" width="2" height="1" fill="#808080"/>
<rect x="79" y="493" width="2" height="2" fill="#808080"/>
<rect x="81" y="490" width="2" height="5" fill="#808080"/>
<rect x="84" y="484" width="2" height="11" fill="#808080"/>
<rect x="87" y="481" width="2" height="14" fill="#808080"/>
<rect x="90" y="479" width="2" height="16" fill="#808080"/>
<rect x="92" y="479" width="2" height="16" fill="#808080"/>
<rect x="95" y="478" width="2" height="17" fill="#808080"/>
<rect x="98" y="477" width="2" height="18" fill="#808080"/>
<rect x="101" y="477" width="2" height="18" fill="#808080"/>
<rect x="103" y="475" width="2" height="20" fill="#808080"/>
<rect x="106" y="473" width="2" height="22" fill="#808080"/>
<rect x="109" y="476" width="2" height="19" fill="#808080"/>
<rect x="112" y="479" width="2" height="16" fill="#808080"/>
<rect x="114" y="482" width="2" height="13" fill="#808080"/>
<rect x="117" y="485" width="2" height="10" fill="#808080"/>
<rect x="120" y="487" width="2" height="8" fill="#808080"/>
<rect x="123" y="489" width="2" height="6" fill="#808080"/>
<rect x="125" y="491" width="2" height="4" fill="#808080"/>
<rect x="128" y="493" width="2" height="2" fill="#808080"/>
<rect x="131" y="491" width="2" height="4" fill="#808080"/>
<rect x="134" y="485" width="2" height="10" fill="#808080"/>
<rect x="136" y="483" width="2" height="12" fill="#808080"/>
<rect x="139" y="480" width="2" height="15" fill="#808080"/>
<rect x="142" y="481" width="2" height="14" fill="#808080"/>
<rect x="145" y="487" width="2" height="8" fill="#808080"/>
<rect x="147" y="492" width="2" height="3" fill="#808080"/>
<rect x="150" y="496" width="2" height="3" fill="#808080"/>
<rect x="153" y="496" width="2" height="9" fill="#808080"/>
<rect x="156" y="496" width="2" height="14" fill="#808080"/>
<rect x="159" y="496" width="2" height="17" fill="#808080"/>
<rect x="161" y="496" width="2" height="20" fill="#808080"/>
<rect x="164" y="496" width="2" height="22" fill="#808080"/>
<rect x="167" y="496" width="2" height="20" fill="#808080"/>
<rect x="170" y="496" width="2" height="17" fill="#808080"/>
<rect x="172" y="496" width="2" height="16" fill="#808080"/>
<rect x="175" y="496" width="2" height="14" fill="#808080"/>
<rect x="178" y="496" width="2" height="13" fill="#808080"/>
<rect x="181" y="496" width="2" height="15" fill="#808080"/>
<rect x="183" y="496" width="2" height="17" fill="#808080"/>
<rect x="186" y="496" width="2" height="20" fill="#808080"/>
<rect x="189" y="496" width="2" height="21" fill="#808080"/>
<rect x="192" y="496" width="2" height="19" fill="#808080"/>
<rect x="194" y="496" width="2" height="18" fill="#808080"/>
<rect x="198" y="496" width="2" height="14" fill="#808080"/>
<rect x="200" y="496" width="2" height="13" fill="#808080"/>
<rect x="203" y="496" width="2" height="12" fill="#808080"/>
<rect x="205" y="496" width="2" height="10" fill="#808080"/>
<rect x="208" y="496" width="2" height="9" fill="#808080"/>
<rect x="211" y="496" width="2" height="8" fill="#808080"/>
<rect x="215" y="496" width="2" height="6" fill="#808080"/>
<rect x="217" y="496" width="2" height="5" fill="#808080"/>
<rect x="219" y="496" width="2" height="5" fill="#808080"/>
<rect x="222" y="496" width="2" height="4" fill="#808080"/>
<rect x="225" y="496" width="2" height="4" fill="#808080"/>
<rect x="227" y="496" width="2" height="3" fill="#808080"/>
<rect x="230" y="496" width="2" height="3" fill="#808080"/>
<rect x="233" y="496" width="2" height="3" fill="#808080"/>
<rect x="236" y="496" width="2" height="2" fill="#808080"/>
<rect x="239" y="496" width="2" height="2" fill="#808080"/>
<rect x="242" y="496" width="2" height="1" fill="#808080"/>
<rect x="244" y="496" width="2" height="1" fill="#808080"/>
<rect x="247" y="496" width="2" height="1" fill="#808080"/>
<rect x="250" y="496" width="2" height="2" fill="#808080"/>
<rect x="252" y="496" width="2" height="3" fill="#808080"/>
<rect x="255" y="496" width="2" height="4" fill="#808080"/>
<rect x="258" y="496" width="2" height="5" fill="#808080"/>
<rect x="261" y="496" width="2" height="3" fill="#808080"/>
<rect x="263" y="496" width="2" height="2" fill="#808080"/>
<rect x="266" y="496" width="2" height="1" fill="#808080"/>
<rect x="275" y="494" width="2" height="1" fill="#808080"/>
<rect x="277" y="494" width="2" height="1" fill="#808080"/>
<rect x="280" y="493" width="2" height="2" fill="#808080"/>
<rect x="283" y="492" width="2" height="3" fill="#808080"/>
<rect x="286" y="492" width="2" height="3" fill="#808080"/>
<rect x="289" y="491" width="2" height="4" fill="#808080"/>
<rect x="292" y="489" width="2" height="6" fill="#808080"/>
<rect x="294" y="488" width="2" height="7" fill="#808080"/>
<rect x="297" y="487" width="2" height="8" fill="#808080"/>
<rect x="300" y="487" width="2" height="8" fill="#808080"/>
<rect x="303" y="487" width="2" height="8" fill="#808080"/>
<rect x="305" y="488" width="2" height="7" fill="#808080"/>
<rect x="307" y="490" width="2" height="5" fill="#808080"/>
<rect x="309" y="493" width="2" height="2" fill="#808080"/>
<rect x="311" y="493" width="2" height="2" fill="#808080"/>
<rect x="314" y="494" width="2" height="1" fill="#808080"/>
<rect x="317" y="493" width="2" height="2" fill="#808080"/>
<rect x="320" y="492" width="2" height="3" fill="#808080"/>
<rect x="323" y="491" width="2" height="4" fill="#808080"/>
<rect x="325" y="492" width="2" height="3" fill="#808080"/>
<rect x="328" y="494" width="2" height="1" fill="#808080"/>
<rect x="331" y="494" width="2" height="1" fill="#808080"/>
<rect x="334" y="494" width="2" height="1" fill="#808080"/>
<rect x="337" y="494" width="2" height="1" fill="#808080"/>
<rect x="340" y="494" width="2" height="1" fill="#808080"/>
<rect x="342" y="494" width="2" height="1" fill="#808080"/>
<rect x="345" y="494" width="2" height="1" fill="#808080"/>
<rect x="354" y="496" width="2" height="1" fill="#808080"/>
<rect x="357" y="496" width="2" height="2" fill="#808080"/>
<rect x="359" y="496" width="2" height="2" fill="#808080"/>
<rect x="362" y="496" width="2" height="1" fill="#808080"/>
<rect x="365" y="496" width="2" height="1" fill="#808080"/>
<rect x="368" y="496" width="2" height="1" fill="#808080"/>
<rect x="371" y="496" width="2" height="1" fill="#808080"/>
<rect x="374" y="494" width="2" height="1" fill="#808080"/>
<rect x="377" y="492" width="2" height="3" fill="#808080"/>
<rect x="379" y="491" width="2" height="4" fill="#808080"/>
<rect x="382" y="490" width="2" height="5" fill="#808080"/>
<rect x="385" y="489" width="2" height="6" fill="#808080"/>
<rect x="387" y="488" width="2" height="7" fill="#808080"/>
<rect x="390" y="486" width="2" height="9" fill="#808080"/>
<rect x="393" y="484" width="2" height="11" fill="#808080"/>
<rect x="396" y="486" width="2" height="9" fill="#808080"/>
<rect x="399" y="488" width="2" height="7" fill="#808080"/>
<rect x="401" y="489" width="2" height="6" fill="#808080"/>
<rect x="404" y="490" width="2" height="5" fill="#808080"/>
<rect x="407" y="491" width="2" height="4" fill="#808080"/>
<rect x="409" y="492" width="2" height="3" fill="#808080"/>
<rect x="412" y="492" width="2" height="3" fill="#808080"/>
<rect x="415" y="494" width="2" height="1" fill="#808080"/>
<rect x="418" y="496" width="2" height="1" fill="#808080"/>
<rect x="421" y="496" width="2" height="3" fill="#808080"/>
<rect x="423" y="496" width="2" height="5" fill="#808080"/>
<rect x="426" y="496" width="2" height="9" fill="#808080"/>
<rect x="429" y="496" width="2" height="13" fill="#808080"/>
<rect x="432" y="496" width="2" height="13" fill="#808080"/>
<rect x="434" y="496" width="2" height="13" fill="#808080"/>
<rect x="437" y="496" width="2" height="12" fill="#808080"/>
<rect x="440" y="496" width="2" height="11" fill="#808080"/>
<rect x="443" y="496" width="2" height="9" fill="#808080"/>
<rect x="445" y="496" width="2" height="7" fill="#808080"/>
<rect x="448" y="496" width="2" height="4" fill="#808080"/>
<rect x="451" y="496" width="2" height="3" fill="#808080"/>
<rect x="454" y="496" width="2" height="1" fill="#808080"/>
<rect x="457" y="496" width="2" height="1" fill="#808080"/>
<rect x="459" y="496" width="2" height="1" fill="#808080"/>
<rect x="462" y="496" width="2" height="1" fill="#808080"/>
<rect x="465" y="496" width="2" height="1" fill="#808080"/>
<rect x="468" y="496" width="2" height="1" fill="#808080"/>
<rect x="470" y="496" width="2" height="1" fill="#808080"/>
<rect x="476" y="494" width="2" height="1" fill="#808080"/>
<rect x="479" y="494" width="2" height="1" fill="#808080"/>
<rect x="481" y="494" width="2" height="1" fill="#808080"/>
<rect x="484" y="492" width="2" height="3" fill="#808080"/>
<rect x="487" y="489" width="2" height="6" fill="#808080"/>
<rect x="489" y="487" width="2" height="8" fill="#808080"/>
<rect x="491" y="485" width="2" height="10" fill="#808080"/>
<rect x="493" y="483" width="2" height="12" fill="#808080"/>
<rect x="495" y="482" width="2" height="13" fill="#808080"/>
<rect x="498" y="482" width="2" height="13" fill="#808080"/>
<rect x="501" y="484" width="2" height="11" fill="#808080"/>
<rect x="504" y="484" width="2" height="11" fill="#808080"/>
<rect x="506" y="485" width="2" height="10" fill="#808080"/>
<rect x="509" y="486" width="2" height="9" fill="#808080"/>
<rect x="512" y="486" width="2" height="9" fill="#808080"/>
<rect x="515" y="487" width="2" height="8" fill="#808080"/>
<rect x="517" y="489" width="2" height="6" fill="#808080"/>
<rect x="523" y="496" width="2" height="6" fill="#808080"/>
<rect x="526" y="496" width="2" height="9" fill="#808080"/>
<rect x="528" y="496" width="2" height="9" fill="#808080"/>
<rect x="531" y="496" width="2" height="9" fill="#808080"/>
<rect x="534" y="496" width="2" height="10" fill="#808080"/>
<rect x="536" y="496" width="2" height="11" fill="#808080"/>
<rect x="539" y="496" width="2" height="17" fill="#808080"/>
<rect x="542" y="496" width="2" height="17" fill="#808080"/>
<rect x="545" y="496" width="2" height="16" fill="#808080"/>
<rect x="548" y="496" width="2" height="14" fill="#808080"/>
<rect x="550" y="496" width="2" height="12" fill="#808080"/>
<rect x="553" y="496" width="2" height="11" fill="#808080"/>
<rect x="556" y="496" width="2" height="9" fill="#808080"/>
<rect x="559" y="496" width="2" height="9" fill="#808080"/>
<rect x="561" y="496" width="2" height="10" fill="#808080"/>
<rect x="564" y="496" width="2" height="9" fill="#808080"/>
<rect x="567" y="496" width="2" height="8" fill="#808080"/>
<rect x="570" y="496" width="2" height="8" fill="#808080"/>
<rect x="572" y="496" width="2" height="8" fill="#808080"/>
<rect x="575" y="496" width="2" height="7" fill="#808080"/>
<rect x="578" y="496" width="2" height="6" fill="#808080"/>
<rect x="581" y="496" width="2" height="4" fill="#808080"/>
<rect x="584" y="496" width="2" height="1" fill="#808080"/>
<rect x="586" y="494" width="2" height="1" fill="#808080"/>
<rect x="589" y="491" width="2" height="4" fill="#808080"/>
<rect x="591" y="489" width="2" height="6" fill="#808080"/>
<rect x="594" y="489" width="2" height="6" fill="#808080"/>
<rect x="597" y="489" width="2" height="6" fill="#808080"/>
<rect x="600" y="489" width="2" height="6" fill="#808080"/>
<rect x="603" y="489" width="2" height="6" fill="#808080"/>
<rect x="606" y="490" width="2" height="5" fill="#808080"/>
<rect x="608" y="491" width="2" height="4" fill="#808080"/>
<rect x="611" y="493" width="2" height="2" fill="#808080"/>
<rect x="614" y="494" width="2" height="1" fill="#808080"/>
<rect x="620" y="496" width="2" height="1" fill="#808080"/>
<rect x="622" y="496" width="2" height="1" fill="#808080"/>
<rect x="625" y="496" width="2" height="1" fill="#808080"/>
<rect x="634" y="496" width="2" height="1" fill="#808080"/>
<rect x="636" y="496" width="2" height="2" fill="#808080"/>
<rect x="639" y="496" width="2" height="3" fill="#808080"/>
<rect x="642" y="496" width="2" height="5" fill="#808080"/>
<rect x="644" y="496" width="2" height="6" fill="#808080"/>
<rect x="647" y="496" width="2" height="1" fill="#808080"/>
<rect x="650" y="485" width="2" height="10" fill="#808080"/>
<rect x="652" y="478" width="2" height="17" fill="#808080"/>
<rect x="655" y="471" width="2" height="24" fill="#808080"/>
<rect x="658" y="472" width="2" height="23" fill="#808080"/>
<rect x="661" y="473" width="2" height="22" fill="#808080"/>
<rect x="663" y="473" width="2" height="22" fill="#808080"/>
<rect x="666" y="473" width="2" height="22" fill="#808080"/>
<rect x="669" y="474" width="2" height="21" fill="#808080"/>
<rect x="672" y="477" width="2" height="18" fill="#808080"/>
<rect x="675" y="480" width="2" height="15" fill="#808080"/>
<rect x="678" y="484" width="2" height="11" fill="#808080"/>
<rect x="680" y="488" width="2" height="7" fill="#808080"/>
<rect x="683" y="491" width="2" height="4" fill="#808080"/>
<rect x="686" y="494" width="2" height="1" fill="#808080"/>
<rect x="689" y="494" width="2" height="1" fill="#808080"/>
<rect x="694" y="496" width="2" height="1" fill="#808080"/>
<rect x="700" y="494" width="2" height="1" fill="#808080"/>
<rect x="705" y="496" width="2" height="1" fill="#808080"/>
<rect x="708" y="496" width="2" height="2" fill="#808080"/>
<rect x="710" y="496" width="2" height="1" fill="#808080"/>
<rect x="713" y="494" width="2" height="1" fill="#808080"/>
<rect x="716" y="493" width="2" height="2" fill="#808080"/>
<rect x="719" y="492" width="2" height="3" fill="#808080"/>
<rect x="721" y="489" width="2" height="6" fill="#808080"/>
<rect x="724" y="484" width="2" height="11" fill="#808080"/>
<rect x="727" y="484" width="2" height="11" fill="#808080"/>
<rect x="730" y="483" width="2" height="12" fill="#808080"/>
<rect x="732" y="483" width="2" height="12" fill="#808080"/>
<rect x="735" y="484" width="2" height="11" fill="#808080"/>
<rect x="738" y="487" width="2" height="8" fill="#808080"/>
<rect x="741" y="488" width="2" height="7" fill="#808080"/>
<rect x="743" y="489" width="2" height="6" fill="#808080"/>
<rect x="746" y="490" width="2" height="5" fill="#808080"/>
<rect x="6" y="495" width="1" height="1" fill="#0000ff"/>
<rect x="9" y="495" width="1" height="1" fill="#0000ff"/>
<rect x="12" y="495" width="1" height="1" fill="#0000ff"/>
<rect x="15" y="495" width="1" height="1" fill="#0000ff"/>
<rect x="18" y="495" width="1" height="1" fill="#0000ff"/>
<rect x="21" y="495" width="1" height="1" fill="#0000ff"/>
<rect x="24" y="495" width="1" height="1" fill="#0000ff"/>
<rect x="27" y="495" width="1" height="1" fill="#0000ff"/>
<rect x="30" y="495" width="1" height="1" fill="#0000ff"/>
<rect x="33" y="495" width="1" height="1" fill="#0000ff"/>
<rect x="36" y="495" width="1" height="1" fill="#0000ff"/>
<rect x="39" y="495" width="1" height="1" fill="#0000ff"/>
<rect x="42" y="495" width="1" height="1" fill="#0000ff"/>
<rect x="45" y="495" width="1" height="1" fill="#0000ff"/>
<rect x="48" y="495" width="1" height="1" fill="#0000ff"/>
<rect x="51" y="495" width="1" height="1" fill="#0000ff"/>
<rect x="54" y="495" width="1" height="1" fill="#0000ff"/>
<rect x="57" y="495" width="1" height="1" fill="#0000ff"/>
<rect x="60" y="495" width="1" height="1" fill="#0000ff"/>
<rect x="63" y="495" width="1" height="1" fill="#0000ff"/>
<rect x="66" y="495" width="1" height="1" fill="#0000ff"/>
<rect x="69" y="495" width="1" height="1" fill="#0000ff"/>
<rect x="72" y="495" width="1" height="1" fill="#0000ff"/>
<rect x="75" y="495" width="1" height="1" fill="#0000ff"/>
<rect x="78" y="495" width="1" height="1" fill="#0000ff"/>
<rect x="81" y="495" width="1" height="1" fill="#0000ff"/>
<rect x="84" y="495" width="1" height="1" fill="#0000ff"/>
<rect x="87" y="495" width="1" height="1" fill="#0000ff"/>
<rect x="90" y="495" width="1" height="1" fill="#0000ff"/>
<rect x="93" y="495" width="1" height="1" fill="#0000ff"/>
<rect x="96" y="495" width="1" height="1" fill="#0000ff"/>
<rect x="99" y="495" width="1" height="1" fill="#0000ff"/>
<rect x="102" y="495" width="1" height="1" fill="#0000ff"/>
<rect x="105" y="495" width="1" height="1" fill="#0000ff"/>
<rect x="108" y="495" width="1" height="1" fill="#0000ff"/>
<rect x="111" y="495" width="1" height="1" fill="#0000ff"/>
<rect x="114" y="495" width="1" height="1" fill="#0000ff"/>
<rect x="117" y="495" width="1" height="1" fill="#0000ff"/>
<rect x="120" y="495" width="1" height="1" fill="#0000ff"/>
<rect x="123" y="495" width="1" height="1" fill="#0000ff"/>
<rect x="126" y="495" width="1" height="1" fill="#0000ff"/>
<rect x="129" y="495" width="1" height="1" fill="#0000ff"/>
<rect x="132" y="495" width="1" height="1" fill="#0000ff"/>
<rect x="135" y="495" width="1" height="1" fill="#0000ff"/>
<rect x="138" y="495" width="1" height="1" fill="#0000ff"/>
<rect x="141" y="495" width="1" height="1" fill="#0000ff"/>
<rect x="144" y="495" width="1" height="1" fill="#0000ff"/>
<rect x="147" y="495" width="1" height="1" fill="#0000ff"/>
<rect x="150" y="495" width="1" height="1" fill="#0000ff"/>
<rect x="153" y="495" width="1" height="1" fill="#0000ff"/>
<rect x="156" y="495" width="1" height="1" fill="#0000ff"/>
<rect x="159" y="495" width="1" height="1" fill="#0000ff"/>
<rect x="162" y="495" width="1" height="1" fill="#0000ff"/>
<rect x="165" y="495" width="1" height="1" fill="#0000ff"/>
<rect x="168" y="495" width="1" height="1" fill="#0000ff"/>
<rect x="171" y="495" width="1" height="1" fill="#0000ff"/>
<rect x="174" y="495" width="1" height="1" fill="#0000ff"/>
<rect x="177" y="495" width="1" height="1" fill="#0000ff"/>
<rect x="180" y="495" width="1" height="1" fill="#0000ff"/>
<rect x="183" y="495" width="1" height="1" fill="#0000ff"/>
<rect x="186" y="495" width="1" height="1" fill="#0000ff"/>
<rect x="189" y="495" width="1" height="1" fill="#0000ff"/>
<rect x="192" y="495" width="1" height="1" fill="#0000ff"/>
<rect x="195" y="495" width="1" height="1" fill="#0000ff"/>
<rect x="198" y="495" width="1" height="1" fill="#0000ff"/>
<rect x="201" y="495" width="1" height="1" fill="#0000ff"/>
<rect x="204" y="495" width="1" height="1" fill="#0000ff"/>
<rect x="207" y="495" width="1" height="1" fill="#0000ff"/>
<rect x="210" y="495" width="1" height="1" fill="#0000ff"/>
<rect x="213" y="495" width="1" height="1" fill="#0000ff"/>
<rect x="216" y="495" width="1" height="1" fill="#0000ff"/>
<rect x="219" y="495" width="1" height="1" fill="#0000ff"/>
<rect x="222" y="495" width="1" height="1" fill="#0000ff"/>
<rect x="225" y="495" width="1" height="1" fill="#0000ff"/>
<rect x="228" y="495" width="1" height="1" fill="#0000ff"/>
<rect x="231" y="495" width="1" height="1" fill="#0000ff"/>
<rect x="234" y="495" width="1" height="1" fill="#0000ff"/>
<rect x="237" y="495" width="1" height="1" fill="#0000ff"/>
<rect x="240" y="495" width="1" height="1" fill="#0000ff"/>
<rect x="243" y="495" width="1" height="1" fill="#0000ff"/>
<rect x="246" y="495" width="1" height="1" fill="#0000ff"/>
<rect x="249" y="495" width="1" height="1" fill="#0000ff"/>
<rect x="252" y="495" width="1" height="1" fill="#0000ff"/>
<rect x="255" y="495" width="1" height="1" fill="#0000ff"/>
<rect x="258" y="495" width="1" height="1" fill="#0000ff"/>
<rect x="261" y="495" width="1" height="1" fill="#0000ff"/>
<rect x="264" y="495" width="1" height="1" fill="#0000ff"/>
<rect x="267" y="495" width="1" height="1" fill="#0000ff"/>
<rect x="270" y="495" width="1" height="1" fill="#0000ff"/>
<rect x="273" y="495" width="1" height="1" fill="#0000ff"/>
<rect x="276" y="495" width="1" height="1" fill="#0000ff"/>
<rect x="279" y="495" width="1" height="1" fill="#0000ff"/>
<rect x="282" y="495" width="1" height="1" fill="#0000ff"/>
<rect x="285" y="495" width="1" height="1" fill="#0000ff"/>
<rect x="288" y="495" width="1" height="1" fill="#0000ff"/>
<rect x="291" y="495" width="1" height="1" fill="#0000ff"/>
<rect x="294" y="495" width="1" height="1" fill="#0000ff"/>
<rect x="297" y="495" width="1" height="1" fill="#0000ff"/>
<rect x="300" y="495" width="1" height="1" fill="#0000ff"/>
<rect x="303" y="495" width="1" height="1" fill="#0000ff"/>
<rect x="306" y="495" width="1" height="1" fill="#0000ff"/>
<rect x="309" y="495" width="1" height="1" fill="#0000ff"/>
<rect x="312" y="495" width="1" height="1" fill="#0000ff"/>
<rect x="315" y="495" width="1" height="1" fill="#0000ff"/>
<rect x="318" y="495" width="1" height="1" fill="#0000ff"/>
<rect x="321" y="495" width="1" height="1" fill="#0000ff"/>
<rect x="324" y="495" width="1" height="1" fill="#0000ff"/>
<rect x="327" y="495" width="1" height="1" fill="#0000ff"/>
<rect x="330" y="495" width="1" height="1" fill="#0000ff"/>
<rect x="333" y="495" width="1" height="1" fill="#0000ff"/>
<rect x="336" y="495" width="1" height="1" fill="#0000ff"/>
<rect x="339" y="495" width="1" height="1" fill="#0000ff"/>
<rect x="342" y="495" width="1" height="1" fill="#0000ff"/>
<rect x="345" y="495" width="1" height="1" fill="#0000ff"/>
<rect x="348" y="495" width="1" height="1" fill="#0000ff"/>
<rect x="351" y="495" width="1" height="1" fill="#0000ff"/>
<rect x="354" y="495" width="1" height="1" fill="#0000ff"/>
<rect x="357" y="495" width="1" height="1" fill="#0000ff"/>
<rect x="360" y="495" width="1" height="1" fill="#0000ff"/>
<rect x="363" y="495" width="1" height="1" fill="#0000ff"/>
<rect x="366" y="495" width="1" height="1" fill="#0000ff"/>
<rect x="369" y="495" width="1" height="1" fill="#0000ff"/>
<rect x="372" y="495" width="1" height="1" fill="#0000ff"/>
<rect x="375" y="495" width="1" height="1" fill="#0000ff"/>
<rect x="378" y="495" width="1" height="1" fill="#0000ff"/>
<rect x="381" y="495" width="1" height="1" fill="#0000ff"/>
<rect x="384" y="495" width="1" height="1" fill="#0000ff"/>
<rect x="387" y="495" width="1" height="1" fill="#0000ff"/>
<rect x="390" y="495" width="1" height="1" fill="#0000ff"/>
<rect x="393" y="495" width="1" height="1" fill="#0000ff"/>
<rect x="396" y="495" width="1" height="1" fill="#0000ff"/>
<rect x="399" y="495" width="1" height="1" fill="#0000ff"/>
<rect x="402" y="495" width="1" height="1" fill="#0000ff"/>
<rect x="405" y="495" width="1" height="1" fill="#0000ff"/>
<rect x="408" y="495" width="1" height="1" fill="#0000ff"/>
<rect x="411" y="495" width="1" height="1" fill="#0000ff"/>
<rect x="414" y="495" width="1" height="1" fill="#0000ff"/>
<rect x="417" y="495" width="1" height="1" fill="#0000ff"/>
<rect x="420" y="495" width="1" height="1" fill="#0000ff"/>
<rect x="423" y="495" width="1" height="1" fill="#0000ff"/>
<rect x="426" y="495" width="1" height="1" fill="#0000ff"/>
<rect x="429" y="495" width="1" height="1" fill="#0000ff"/>
<rect x="432" y="495" width="1" height="1" fill="#0000ff"/>
<rect x="435" y="495" width="1" height="1" fill="#0000ff"/>
<rect x="438" y="495" width="1" height="1" fill="#0000ff"/>
<rect x="441" y="495" width="1" height="1" fill="#0000ff"/>
<rect x="444" y="495" width="1" height="1" fill="#0000ff"/>
<rect x="447" y="495" width="1" height="1" fill="#0000ff"/>
<rect x="450" y="495" width="1" height="1" fill="#0000ff"/>
<rect x="453" y="495" width="1" height="1" fill="#0000ff"/>
<rect x="456" y="495" width="1" height="1" fill="#0000ff"/>
<rect x="459" y="495" width="1" height="1" fill="#0000ff"/>
<rect x="462" y="495" width="1" height="1" fill="#0000ff"/>
<rect x="465" y="495" width="1" height="1" fill="#0000ff"/>
<rect x="468" y="495" width="1" height="1" fill="#0000ff"/>
<rect x="471" y="495" width="1" height="1" fill="#0000ff"/>
<rect x="474" y="495" width="1" height="1" fill="#0000ff"/>
<rect x="477" y="495" width="1" height="1" fill="#0000ff"/>
<rect x="480" y="495" width="1" height="1" fill="#0000ff"/>
<rect x="483" y="495" width="1" height="1" fill="#0000ff"/>
<rect x="486" y="495" width="1" height="1" fill="#0000ff"/>
<rect x="489" y="495" width="1" height="1" fill="#0000ff"/>
<rect x="492" y="495" width="1" height="1" fill="#0000ff"/>
<rect x="495" y="495" width="1" height="1" fill="#0000ff"/>
<rect x="498" y="495" width="1" height="1" fill="#0000ff"/>
<rect x="501" y="495" width="1" height="1" fill="#0000ff"/>
<rect x="504" y="495" width="1" height="1" fill="#0000ff"/>
<rect x="507" y="495" width="1" height="1" fill="#0000ff"/>
<rect x="510" y="495" width="1" height="1" fill="#0000ff"/>
<rect x="513" y="495" width="1" height="1" fill="#0000ff"/>
<rect x="516" y="495" width="1" height="1" fill="#0000ff"/>
<rect x="519" y="495" width="1" height="1" fill="#0000ff"/>
<rect x="522" y="495" width="1" height="1" fill="#0000ff"/>
<rect x="525" y="495" width="1" height="1" fill="#0000ff"/>
<rect x="528" y="495" width="1" height="1" fill="#0000ff"/>
<rect x="531" y="495" width="1" height="1" fill="#0000ff"/>
<rect x="534" y="495" width="1" height="1" fill="#0000ff"/>
<rect x="537" y="495" width="1" height="1" fill="#0000ff"/>
<rect x="540" y="495" width="1" height="1" fill="#0000ff"/>
<rect x="543" y="495" width="1" height="1" fill="#0000ff"/>
<rect x="546" y="495" width="1" height="1" fill="#0000ff"/>
<rect x="549" y="495" width="1" height="1" fill="#0000ff"/>
<rect x="552" y="495" width="1" height="1" fill="#0000ff"/>
<rect x="555" y="495" width="1" height="1" fill="#0000ff"/>
<rect x="558" y="495" width="1" height="1" fill="#0000ff"/>
<rect x="561" y="495" width="1" height="1" fill="#0000ff"/>
<rect x="564" y="495" width="1" height="1" fill="#0000ff"/>
<rect x="567" y="495" width="1" height="1" fill="#0000ff"/>
<rect x="570" y="495" width="1" height="1" fill="#0000ff"/>
<rect x="573" y="495" width="1" height="1" fill="#0000ff"/>
<rect x="576" y="495" width="1" height="1" fill="#0000ff"/>
<rect x="579" y="495" width="1" height="1" fill="#0000ff"/>
<rect x="582" y="495" width="1" height="1" fill="#0000ff"/>
<rect x="585" y="495" width="1" height="1" fill="#0000ff"/>
<rect x="588" y="495" width="1" height="1" fill="#0000ff"/>
<rect x="591" y="495" width="1" height="1" fill="#0000ff"/>
<rect x="594" y="495" width="1" height="1" fill="#0000ff"/>
<rect x="597" y="495" width="1" height="1" fill="#0000ff"/>
<rect x="600" y="495" width="1" height="1" fill="#0000ff"/>
<rect x="603" y="495" width="1" height="1" fill="#0000ff"/>
<rect x="606" y="495" width="1" height="1" fill="#0000ff"/>
<rect x="609" y="495" width="1" height="1" fill="#0000ff"/>
<rect x="612" y="495" width="1" height="1" fill="#0000ff"/>
<rect x="615" y="495" width="1" height="1" fill="#0000ff"/>
<rect x="618" y="495" width="1" height="1" fill="#0000ff"/>
<rect x="621" y="495" width="1" height="1" fill="#0000ff"/>
<rect x="624" y="495" width="1" height="1" fill="#0000ff"/>
<rect x="627" y="495" width="1" height="1" fill="#0000ff"/>
<rect x="630" y="495" width="1" height="1" fill="#0000ff"/>
<rect x="633" y="495" width="1" height="1" fill="#0000ff"/>
<rect x="636" y="495" width="1" height="1" fill="#0000ff"/>
<rect x="639" y="495" width="1" height="1" fill="#0000ff"/>
<rect x="642" y="495" width="1" height="1" fill="#0000ff"/>
<rect x="645" y="495" width="1" height="1" fill="#0000ff"/>
<rect x="648" y="495" width="1" height="1" fill="#0000ff"/>
<rect x="651" y="495" width="1" height="1" fill="#0000ff"/>
<rect x="654" y="495" width="1" height="1" fill="#0000ff"/>
<rect x="657" y="495" width="1" height="1" fill="#0000ff"/>
<rect x="660" y="495" width="1" height="1" fill="#0000ff"/>
<rect x="663" y="495" width="1" height="1" fill="#0000ff"/>
<rect x="666" y="495" width="1" height="1" fill="#0000ff"/>
<rect x="669" y="495" width="1" height="1" fill="#0000ff"/>
<rect x="672" y="495" width="1" height="1" fill="#0000ff"/>
<rect x="675" y="495" width="1" height="1" fill="#0000ff"/>
<rect x="678" y="495" width="1" height="1" fill="#0000ff"/>
<rect x="681" y="495" width="1" height="1" fill="#0000ff"/>
<rect x="684" y="495" width="1" height="1" fill="#0000ff"/>
<rect x="687" y="495" width="1" height="1" fill="#0000ff"/>
<rect x="690" y="495" width="1" height="1" fill="#0000ff"/>
<rect x="693" y="495" width="1" height="1" fill="#0000ff"/>
<rect x="696" y="495" width="1" height="1" fill="#0000ff"/>
<rect x="699" y="495" width="1" height="1" fill="#0000ff"/>
<rect x="702" y="495" width="1" height="1" fill="#0000ff"/>
<rect x="705" y="495" width="1" height="1" fill="#0000ff"/>
<rect x="708" y="495" width="1" height="1" fill="#0000ff"/>
<rect x="711" y="495" width="1" height="1" fill="#0000ff"/>
<rect x="714" y="495" width="1" height="1" fill="#0000ff"/>
<rect x="717" y="495" width="1" height="1" fill="#0000ff"/>
<rect x="720" y="495" width="1" height="1" fill="#0000ff"/>
<rect x="723" y="495" width="1" height="1" fill="#0000ff"/>
<rect x="726" y="495" width="1" height="1" fill="#0000ff"/>
<rect x="729" y="495" width="1" height="1" fill="#0000ff"/>
<rect x="732" y="495" width="1" height="1" fill="#0000ff"/>
<rect x="735" y="495" width="1" height="1" fill="#0000ff"/>
<rect x="738" y="495" width="1" height="1" fill="#0000ff"/>
<rect x="741" y="495" width="1" height="1" fill="#0000ff"/>
<rect x="744" y="495" width="1" height="1" fill="#0000ff"/>
<rect x="747" y="495" width="1" height="1" fill="#0000ff"/>
</g>
<g shape-rendering="crispEdges" stroke-linejoin="round">
<path d="M142 420.5h3M140 421.5h3M144 421.5h3M139 422.5h2M146 422.5h2M139 423.5h2M146 423.5h2M138 424.5h2M147 424.5h2M138 425.5h2M147 425.5h2M137 426.5h2M148 426.5h2M137 427.5h2M148 427.5h2M136 428.5h2M149 428.5h2M136 429.5h2M149 429.5h2M135 430.5h2M150 430.5h2M134 431.5h2M150 431.5h2M134 432.5h2M151 432.5h2M133 433.5h2M151 433.5h2M133 434.5h2M152 434.5h2M735 434.5h4M744 434.5h6M132 435.5h2M153 435.5h2M732 435.5h4M738 435.5h3M742 435.5h3M132 436.5h2M153 436.5h2M731 436.5h2M740 436.5h3M109 437.5h7M119 437.5h5M131 437.5h2M154 437.5h2M730 437.5h2M108 438.5h2M115 438.5h5M123 438.5h4M131 438.5h2M154 438.5h2M730 438.5h2M107 439.5h2M126 439.5h3M130 439.5h2M155 439.5h2M729 439.5h2M106 440.5h2M128 440.5h4M155 440.5h2M728 440.5h2M106 441.5h2M156 441.5h2M728 441.5h2M105 442.5h2M156 442.5h2M727 442.5h2M105 443.5h2M157 443.5h2M726 443.5h2M104 444.5h2M157 444.5h2M726 444.5h2M104 445.5h2M158 445.5h2M725 445.5h2M104 446.5h2M158 446.5h2M724 446.5h2M103 447.5h2M159 447.5h2M724 447.5h2M103 448.5h2M159 448.5h2M723 448.5h2M102 449.5h2M160 449.5h2M723 449.5h2M102 450.5h2M160 450.5h2M722 450.5h2M101 451.5h2M160 451.5h2M722 451.5h2M101 452.5h2M160 452.5h2M675 452.5h3M722 452.5h2M101 453.5h2M161 453.5h2M673 453.5h3M677 453.5h3M721 453.5h2M100 454.5h2M161 454.5h2M671 454.5h3M679 454.5h2M721 454.5h2M100 455.5h2M161 455.5h2M670 455.5h2M680 455.5h2M721 455.5h2M99 456.5h2M161 456.5h2M670 456.5h2M680 456.5h2M720 456.5h2M99 457.5h2M162 457.5h2M669 457.5h2M681 457.5h2M720 457.5h2M98 458.5h2M162 458.5h2M669 458.5h2M682 458.5h3M719 458.5h2M98 459.5h2M163 459.5h2M668 459.5h2M684 459.5h3M717 459.5h3M97 460.5h2M163 460.5h2M667 460.5h2M686 460.5h7M700 460.5h4M714 460.5h4M97 461.5h2M164 461.5h2M667 461.5h2M692 461.5h3M697 461.5h4M703 461.5h3M713 461.5h2M96 462.5h2M165 462.5h2M511 462.5h9M666 462.5h2M694 462.5h4M705 462.5h4M712 462.5h2M96 463.5h2M165 463.5h2M511 463.5h2M518 463.5h2M665 463.5h2M708 463.5h5M95 464.5h2M166 464.5h3M510 464.5h2M519 464.5h2M665 464.5h2M710 464.5h2M95 465.5h2M168 465.5h3M510 465.5h2M519 465.5h2M664 465.5h2M94 466.5h2M170 466.5h3M506 466.5h2M510 466.5h2M520 466.5h2M663 466.5h2M93 467.5h2M172 467.5h3M505 467.5h6M520 467.5h2M663 467.5h2M93 468.5h2M174 468.5h2M504 468.5h2M509 468.5h2M521 468.5h2M662 468.5h2M92 469.5h2M175 469.5h2M503 469.5h2M521 469.5h2M661 469.5h2M91 470.5h2M176 470.5h3M501 470.5h3M521 470.5h2M661 470.5h2M91 471.5h2M178 471.5h2M499 471.5h3M522 471.5h2M660 471.5h2M90 472.5h2M179 472.5h2M498 472.5h2M522 472.5h2M659 472.5h2M89 473.5h2M179 473.5h2M497 473.5h2M522 473.5h2M659 473.5h2M89 474.5h2M180 474.5h2M397 474.5h19M496 474.5h2M523 474.5h2M658 474.5h2M88 475.5h2M180 475.5h2M394 475.5h4M415 475.5h2M495 475.5h2M523 475.5h2M658 475.5h2M88 476.5h2M181 476.5h2M393 476.5h2M416 476.5h2M494 476.5h2M524 476.5h2M657 476.5h2M87 477.5h2M181 477.5h2M392 477.5h2M417 477.5h2M494 477.5h2M524 477.5h2M657 477.5h2M87 478.5h2M182 478.5h2M392 478.5h2M418 478.5h2M493 478.5h2M525 478.5h2M656 478.5h2M86 479.5h2M183 479.5h2M391 479.5h2M419 479.5h3M493 479.5h2M525 479.5h2M656 479.5h2M86 480.5h2M183 480.5h2M390 480.5h2M421 480.5h2M492 480.5h2M526 480.5h3M655 480.5h2M85 481.5h2M184 481.5h2M389 481.5h2M422 481.5h2M492 481.5h2M528 481.5h3M655 481.5h2M85 482.5h2M184 482.5h2M388 482.5h2M423 482.5h2M491 482.5h2M530 482.5h2M655 482.5h2M84 483.5h2M185 483.5h2M387 483.5h2M424 483.5h2M491 483.5h2M531 483.5h3M655 483.5h2M84 484.5h2M185 484.5h2M387 484.5h2M424 484.5h2M490 484.5h2M533 484.5h2M654 484.5h2M83 485.5h2M186 485.5h2M386 485.5h2M425 485.5h2M490 485.5h2M534 485.5h2M654 485.5h2M83 486.5h2M187 486.5h2M385 486.5h2M426 486.5h2M489 486.5h2M535 486.5h2M654 486.5h2M82 487.5h2M187 487.5h2M384 487.5h2M426 487.5h2M489 487.5h2M535 487.5h2M654 487.5h2M82 488.5h2M188 488.5h2M383 488.5h2M427 488.5h2M488 488.5h2M536 488.5h2M653 488.5h2M82 489.5h2M188 489.5h2M382 489.5h2M427 489.5h2M488 489.5h2M537 489.5h2M653 489.5h2M81 490.5h2M189 490.5h2M381 490.5h2M428 490.5h2M487 490.5h2M537 490.5h2M653 490.5h2M81 491.5h2M189 491.5h2M380 491.5h2M428 491.5h2M486 491.5h2M538 491.5h2M653 491.5h2M20 492.5h41M80 492.5h2M190 492.5h2M378 492.5h3M429 492.5h2M486 492.5h2M538 492.5h2M652 492.5h2M14 493.5h7M60 493.5h3M79 493.5h3M191 493.5h2M377 493.5h2M429 493.5h2M485 493.5h2M538 493.5h2M652 493.5h2M9 494.5h6M62 494.5h3M77 494.5h3M191 494.5h2M324 494.5h3M376 494.5h2M430 494.5h2M484 494.5h2M539 494.5h2M652 494.5h2M6 495.5h4M64 495.5h5M73 495.5h5M192 495.5h2M322 495.5h3M326 495.5h3M341 495.5h14M374 495.5h3M431 495.5h2M482 495.5h3M539 495.5h2M652 495.5h2M68 496.5h6M193 496.5h2M305 496.5h3M320 496.5h3M328 496.5h14M354 496.5h3M373 496.5h2M432 496.5h2M479 496.5h4M539 496.5h2M651 496.5h2M194 497.5h2M302 497.5h4M307 497.5h2M318 497.5h3M356 497.5h3M369 497.5h5M433 497.5h2M477 497.5h3M539 497.5h2M651 497.5h2M194 498.5h2M301 498.5h2M308 498.5h2M316 498.5h3M358 498.5h12M434 498.5h3M455 498.5h8M473 498.5h5M540 498.5h2M651 498.5h2M195 499.5h2M299 499.5h3M309 499.5h2M313 499.5h4M436 499.5h3M450 499.5h6M462 499.5h12M540 499.5h2M651 499.5h2M196 500.5h3M298 500.5h2M310 500.5h4M438 500.5h3M448 500.5h3M541 500.5h2M651 500.5h2M198 501.5h3M297 501.5h2M440 501.5h3M445 501.5h4M541 501.5h2M650 501.5h2M200 502.5h3M296 502.5h2M442 502.5h4M542 502.5h2M606 502.5h9M650 502.5h2M202 503.5h3M294 503.5h3M543 503.5h2M602 503.5h5M614 503.5h4M650 503.5h2M204 504.5h3M293 504.5h2M543 504.5h2M601 504.5h2M617 504.5h4M650 504.5h2M206 505.5h3M292 505.5h2M544 505.5h2M599 505.5h3M620 505.5h4M628 505.5h6M650 505.5h2M208 506.5h3M291 506.5h2M545 506.5h3M597 506.5h3M623 506.5h6M633 506.5h4M649 506.5h2M210 507.5h5M290 507.5h2M547 507.5h2M594 507.5h4M636 507.5h3M649 507.5h2M214 508.5h4M289 508.5h2M548 508.5h4M592 508.5h3M638 508.5h3M649 508.5h2M217 509.5h5M287 509.5h3M551 509.5h4M591 509.5h2M640 509.5h2M648 509.5h2M221 510.5h15M242 510.5h10M285 510.5h3M554 510.5h4M591 510.5h2M641 510.5h2M648 510.5h2M235 511.5h8M251 511.5h2M282 511.5h4M557 511.5h3M590 511.5h2M642 511.5h2M647 511.5h2M252 512.5h2M279 512.5h4M559 512.5h2M589 512.5h2M643 512.5h2M647 512.5h2M253 513.5h2M275 513.5h5M560 513.5h2M589 513.5h2M644 513.5h4M254 514.5h2M271 514.5h5M561 514.5h2M588 514.5h2M646 514.5h2M255 515.5h2M267 515.5h5M562 515.5h5M587 515.5h2M256 516.5h3M264 516.5h4M566 516.5h4M586 516.5h2M258 517.5h3M262 517.5h3M569 517.5h3M585 517.5h2M260 518.5h3M571 518.5h2M584 518.5h2M572 519.5h4M582 519.5h3M575 520.5h8" fill="none" stroke="#000000" stroke-width="1"/>
<path d="M149 428.5h5M147 429.5h3M153 429.5h4M145 430.5h3M156 430.5h3M144 431.5h2M158 431.5h2M142 432.5h3M158 432.5h2M141 433.5h2M159 433.5h2M140 434.5h2M159 434.5h2M139 435.5h2M160 435.5h2M138 436.5h2M160 436.5h2M137 437.5h2M161 437.5h2M136 438.5h2M161 438.5h2M749 438.5h1M135 439.5h2M162 439.5h2M747 439.5h3M133 440.5h3M163 440.5h2M744 440.5h4M131 441.5h3M164 441.5h2M742 441.5h3M128 442.5h4M165 442.5h2M739 442.5h4M124 443.5h5M165 443.5h2M737 443.5h3M122 444.5h3M166 444.5h2M735 444.5h3M120 445.5h3M167 445.5h2M734 445.5h2M119 446.5h2M168 446.5h2M733 446.5h2M117 447.5h3M169 447.5h2M732 447.5h2M116 448.5h2M169 448.5h2M731 448.5h2M115 449.5h2M170 449.5h2M730 449.5h2M114 450.5h2M171 450.5h2M729 450.5h2M113 451.5h2M171 451.5h2M728 451.5h2M112 452.5h2M172 452.5h2M727 452.5h2M111 453.5h2M173 453.5h2M726 453.5h2M110 454.5h2M174 454.5h2M726 454.5h2M109 455.5h2M175 455.5h2M725 455.5h2M109 456.5h2M175 456.5h2M724 456.5h2M108 457.5h2M176 457.5h2M723 457.5h2M107 458.5h2M177 458.5h2M722 458.5h2M106 459.5h2M178 459.5h2M721 459.5h2M106 460.5h2M179 460.5h2M718 460.5h4M105 461.5h2M180 461.5h2M686 461.5h22M713 461.5h6M104 462.5h2M180 462.5h2M682 462.5h5M707 462.5h7M104 463.5h2M181 463.5h2M680 463.5h3M103 464.5h2M182 464.5h2M679 464.5h2M103 465.5h2M183 465.5h2M678 465.5h2M102 466.5h2M184 466.5h2M676 466.5h3M102 467.5h2M185 467.5h2M675 467.5h2M101 468.5h2M186 468.5h2M520 468.5h3M674 468.5h2M101 469.5h2M187 469.5h2M517 469.5h4M522 469.5h3M673 469.5h2M100 470.5h2M188 470.5h2M514 470.5h4M524 470.5h2M673 470.5h2M99 471.5h2M188 471.5h2M512 471.5h3M525 471.5h2M672 471.5h2M99 472.5h2M189 472.5h2M511 472.5h2M526 472.5h3M671 472.5h2M98 473.5h2M189 473.5h2M510 473.5h2M528 473.5h3M671 473.5h2M98 474.5h2M190 474.5h2M509 474.5h2M530 474.5h2M670 474.5h2M97 475.5h2M191 475.5h2M508 475.5h2M531 475.5h2M670 475.5h2M97 476.5h2M191 476.5h2M506 476.5h3M532 476.5h3M669 476.5h2M96 477.5h2M192 477.5h2M413 477.5h6M505 477.5h2M534 477.5h2M669 477.5h2M96 478.5h2M192 478.5h2M408 478.5h6M418 478.5h6M503 478.5h3M535 478.5h2M668 478.5h2M95 479.5h2M193 479.5h2M403 479.5h6M423 479.5h5M502 479.5h2M536 479.5h2M668 479.5h2M94 480.5h2M193 480.5h2M400 480.5h4M427 480.5h3M501 480.5h2M537 480.5h2M667 480.5h2M94 481.5h2M194 481.5h2M399 481.5h2M429 481.5h2M500 481.5h2M537 481.5h2M667 481.5h2M93 482.5h2M195 482.5h2M397 482.5h3M430 482.5h2M500 482.5h2M538 482.5h2M666 482.5h2M92 483.5h2M195 483.5h2M396 483.5h2M430 483.5h2M499 483.5h2M539 483.5h2M665 483.5h2M91 484.5h2M196 484.5h2M395 484.5h2M431 484.5h2M498 484.5h2M540 484.5h2M665 484.5h2M91 485.5h2M196 485.5h2M394 485.5h2M432 485.5h2M497 485.5h2M541 485.5h2M664 485.5h2M90 486.5h2M197 486.5h2M392 486.5h3M433 486.5h2M496 486.5h2M542 486.5h2M663 486.5h2M89 487.5h2M197 487.5h2M391 487.5h2M434 487.5h3M494 487.5h3M542 487.5h2M663 487.5h2M88 488.5h2M198 488.5h2M390 488.5h2M436 488.5h2M493 488.5h2M543 488.5h2M662 488.5h2M87 489.5h2M199 489.5h2M388 489.5h3M437 489.5h2M492 489.5h2M544 489.5h2M661 489.5h2M87 490.5h2M200 490.5h2M386 490.5h3M438 490.5h2M491 490.5h2M545 490.5h2M661 490.5h2M86 491.5h2M201 491.5h2M385 491.5h2M439 491.5h3M490 491.5h2M546 491.5h2M660 491.5h2M35 492.5h28M84 492.5h3M202 492.5h2M383 492.5h3M441 492.5h2M490 492.5h2M546 492.5h2M659 492.5h2M29 493.5h7M62 493.5h6M82 493.5h3M203 493.5h2M381 493.5h3M442 493.5h3M489 493.5h2M547 493.5h2M659 493.5h2M16 494.5h14M67 494.5h5M77 494.5h6M204 494.5h2M379 494.5h3M444 494.5h3M487 494.5h3M548 494.5h2M658 494.5h2M6 495.5h11M71 495.5h7M205 495.5h2M347 495.5h10M377 495.5h3M446 495.5h3M484 495.5h4M549 495.5h2M658 495.5h2M206 496.5h2M336 496.5h12M356 496.5h7M371 496.5h7M448 496.5h5M481 496.5h4M549 496.5h2M657 496.5h2M207 497.5h2M327 497.5h10M362 497.5h10M452 497.5h10M477 497.5h5M550 497.5h2M657 497.5h2M208 498.5h2M321 498.5h7M461 498.5h17M551 498.5h2M656 498.5h2M209 499.5h3M317 499.5h5M552 499.5h3M656 499.5h2M211 500.5h3M314 500.5h4M554 500.5h2M655 500.5h2M213 501.5h3M310 501.5h5M555 501.5h2M655 501.5h2M215 502.5h2M307 502.5h4M556 502.5h2M654 502.5h2M216 503.5h3M304 503.5h4M557 503.5h3M653 503.5h2M218 504.5h3M302 504.5h3M559 504.5h2M613 504.5h13M653 504.5h2M220 505.5h3M301 505.5h2M560 505.5h2M610 505.5h4M625 505.5h14M652 505.5h2M222 506.5h4M299 506.5h3M561 506.5h3M608 506.5h3M638 506.5h5M651 506.5h2M225 507.5h5M298 507.5h2M563 507.5h3M606 507.5h3M642 507.5h3M650 507.5h2M229 508.5h7M296 508.5h3M565 508.5h3M604 508.5h3M644 508.5h5M650 508.5h2M235 509.5h8M294 509.5h3M567 509.5h3M602 509.5h3M648 509.5h3M242 510.5h13M292 510.5h3M569 510.5h3M599 510.5h4M254 511.5h4M290 511.5h3M571 511.5h3M597 511.5h3M257 512.5h4M287 512.5h4M573 512.5h3M595 512.5h3M260 513.5h5M283 513.5h5M575 513.5h2M593 513.5h3M264 514.5h20M576 514.5h3M591 514.5h3M578 515.5h3M588 515.5h4M580 516.5h9" fill="none" stroke="#ff0000" stroke-width="1"/>
</g>
<g shape-rendering="crispEdges" fill="none" stroke="#000" stroke-width="1">
<rect x="5.5" y="21.5" width="745" height="348"/>
<rect x="5.5" y="406.5" width="745" height="118"/>
</g>
<text class="b" x="8" y="15.8" fill="#000" stroke="#000" textLength="21" lengthAdjust="spacing">PVG</text>
<text class="b" x="625" y="15.8" fill="#000" stroke="#000" textLength="42" lengthAdjust="spacing">16.140</text>
<polygon points="690,8.2 698.6,8.2 694.3,17" fill="#ff0000"/>
<text class="b" x="699" y="15.8" fill="#ff0000" stroke="#ff0000" textLength="35" lengthAdjust="spacing">0.070</text>
<text class="b" x="19" y="33.8" fill="#ff0000" stroke="#ff0000" textLength="91" lengthAdjust="spacing">EMA(50) 12.91</text>
<text class="b" x="124" y="33.8" fill="#008000" stroke="#008000" textLength="98" lengthAdjust="spacing">EMA(100) 11.77</text>
<text class="b" x="240" y="33.8" fill="#0000ff" stroke="#0000ff" textLength="98" lengthAdjust="spacing">EMA(200) 10.68</text>
<text class="b" x="355" y="33.8" fill="#800000" stroke="#800000" textLength="189" lengthAdjust="spacing">Bollinger(20) 17.065 11.590</text>
<text class="b" x="314" y="395.8" fill="#000" stroke="#000" textLength="154" lengthAdjust="spacing">RealtimeStockquote.com</text>
<text class="b" x="8" y="419.8" fill="#000" stroke="#000" textLength="77" lengthAdjust="spacing">MACD(12,25)</text>
<text class="b" x="97" y="419.8" fill="#ff0000" stroke="#ff0000" textLength="77" lengthAdjust="spacing">MACD EMA(9)</text>
<text class="b" x="649" y="419.8" fill="#000" stroke="#000" textLength="35" lengthAdjust="spacing">1.052</text>
<text class="b" x="699" y="419.8" fill="#ff0000" stroke="#ff0000" textLength="35" lengthAdjust="spacing">0.977</text>
<text class="s" x="24" y="381" textLength="11" lengthAdjust="spacing">11</text>
<text class="s" x="24" y="536" textLength="11" lengthAdjust="spacing">11</text>
<text class="s" x="77" y="381" textLength="17" lengthAdjust="spacing">Feb</text>
<text class="s" x="77" y="536" textLength="17" lengthAdjust="spacing">Feb</text>
<text class="s" x="129" y="381" textLength="17" lengthAdjust="spacing">Mar</text>
<text class="s" x="129" y="536" textLength="17" lengthAdjust="spacing">Mar</text>
<text class="s" x="193" y="381" textLength="17" lengthAdjust="spacing">Apr</text>
<text class="s" x="193" y="536" textLength="17" lengthAdjust="spacing">Apr</text>
<text class="s" x="248" y="381" textLength="17" lengthAdjust="spacing">May</text>
<text class="s" x="248" y="536" textLength="17" lengthAdjust="spacing">May</text>
<text class="s" x="306" y="381" textLength="17" lengthAdjust="spacing">Jun</text>
<text class="s" x="306" y="536" textLength="17" lengthAdjust="spacing">Jun</text>
<text class="s" x="366" y="381" textLength="17" lengthAdjust="spacing">Jul</text>
<text class="s" x="366" y="536" textLength="17" lengthAdjust="spacing">Jul</text>
<text class="s" x="422" y="381" textLength="17" lengthAdjust="spacing">Aug</text>
<text class="s" x="422" y="536" textLength="17" lengthAdjust="spacing">Aug</text>
<text class="s" x="482" y="381" textLength="17" lengthAdjust="spacing">Sep</text>
<text class="s" x="482" y="536" textLength="17" lengthAdjust="spacing">Sep</text>
<text class="s" x="540" y="381" textLength="17" lengthAdjust="spacing">Oct</text>
<text class="s" x="540" y="536" textLength="17" lengthAdjust="spacing">Oct</text>
<text class="s" x="595" y="381" textLength="17" lengthAdjust="spacing">Nov</text>
<text class="s" x="595" y="536" textLength="17" lengthAdjust="spacing">Nov</text>
<text class="s" x="656" y="381" textLength="17" lengthAdjust="spacing">Dec</text>
<text class="s" x="656" y="536" textLength="17" lengthAdjust="spacing">Dec</text>
<text class="s" x="711" y="381" textLength="11" lengthAdjust="spacing">12</text>
<text class="s" x="711" y="536" textLength="11" lengthAdjust="spacing">12</text>
<text class="s" x="755" y="26" textLength="11" lengthAdjust="spacing">20</text>
<text class="s" x="755" y="113" textLength="11" lengthAdjust="spacing">15</text>
<text class="s" x="755" y="200" textLength="11" lengthAdjust="spacing">10</text>
<text class="s" x="755" y="287" textLength="5" lengthAdjust="spacing">5</text>
<text class="s" x="755" y="374" textLength="5" lengthAdjust="spacing">0</text>
<text class="s" x="755" y="411" textLength="29" lengthAdjust="spacing">1.500</text>
<text class="s" x="755" y="442" textLength="29" lengthAdjust="spacing">1.000</text>
<text class="s" x="755" y="471" textLength="29" lengthAdjust="spacing">0.500</text>
<text class="s" x="755" y="500" textLength="29" lengthAdjust="spacing">0.000</text>
<text class="s" x="755" y="529" textLength="35" lengthAdjust="spacing">-0.500</text>
</svg></body></html>
